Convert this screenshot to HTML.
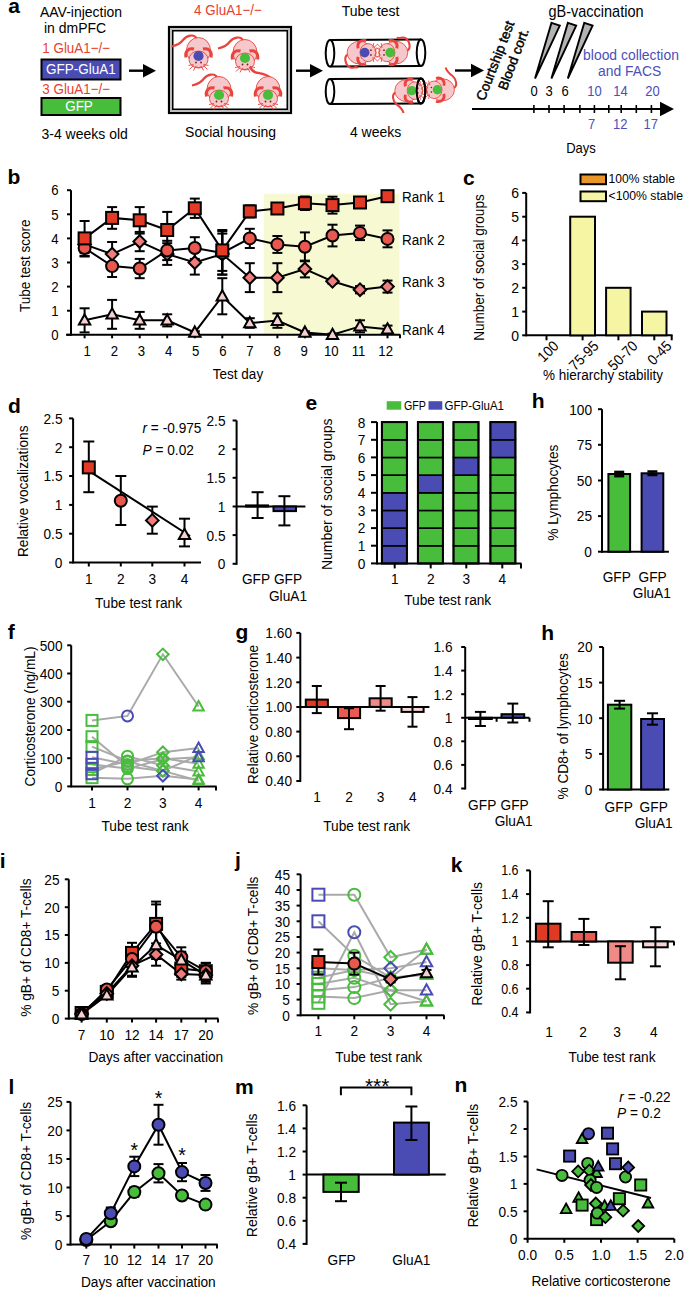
<!DOCTYPE html><html><head><meta charset="utf-8"><style>html,body{margin:0;padding:0;background:#fff;width:685px;height:1291px;overflow:hidden}svg{display:block}text{font-family:"Liberation Sans",sans-serif}</style></head><body><svg width="685" height="1291" viewBox="0 0 685 1291"><text transform="translate(8.20 12.80)" font-size="21" text-anchor="start" fill="#000" font-weight="bold" font-style="normal">a</text>
<text transform="translate(40.00 16.90) scale(1 1.1)" font-size="14" text-anchor="start" fill="#000" font-weight="normal" font-style="normal">AAV-injection</text>
<text transform="translate(44.00 33.00) scale(1 1.1)" font-size="14" text-anchor="start" fill="#000" font-weight="normal" font-style="normal">in dmPFC</text>
<text transform="translate(42.30 53.30) scale(1 1.1)" font-size="13.4" text-anchor="start" fill="#e8402e" font-weight="normal" font-style="normal">1 GluA1−/−</text>
<rect x="41.5" y="59.5" width="79.0" height="20.0" fill="#4a4cb4" stroke="#000" stroke-width="2"/>
<text transform="translate(80.80 74.40) scale(1 1.1)" font-size="13.5" text-anchor="middle" fill="#fff" font-weight="normal" font-style="normal">GFP-GluA1</text>
<text transform="translate(42.30 94.30) scale(1 1.1)" font-size="13.4" text-anchor="start" fill="#e8402e" font-weight="normal" font-style="normal">3 GluA1−/−</text>
<rect x="41.5" y="98.0" width="79.0" height="17.0" fill="#48bd3c" stroke="#000" stroke-width="2"/>
<text transform="translate(79.00 111.00) scale(1 1.1)" font-size="13.5" text-anchor="middle" fill="#fff" font-weight="normal" font-style="normal">GFP</text>
<text transform="translate(41.50 138.50) scale(1 1.1)" font-size="14" text-anchor="start" fill="#000" font-weight="normal" font-style="normal">3-4 weeks old</text>
<line x1="129.0" y1="70.7" x2="147.0" y2="70.7" stroke="#000" stroke-width="2.4"/>
<polygon points="143,63.900000000000006 156,70.7 143,77.5" fill="#000"/>
<line x1="296.0" y1="70.7" x2="314.0" y2="70.7" stroke="#000" stroke-width="2.4"/>
<polygon points="310,63.900000000000006 323,70.7 310,77.5" fill="#000"/>
<line x1="455.0" y1="70.5" x2="475.0" y2="70.5" stroke="#000" stroke-width="2.4"/>
<polygon points="471,63.7 484,70.5 471,77.3" fill="#000"/>
<rect x="169.0" y="27.0" width="122.0" height="86.0" fill="none" stroke="#000" stroke-width="2.2"/>
<rect x="171" y="29" width="118" height="82" fill="none" stroke="#999" stroke-width="1"/>
<rect x="172.7" y="30.7" width="114.6" height="78.6" fill="none" stroke="#000" stroke-width="1.6"/>
<text transform="translate(228.00 14.90) scale(1 1.1)" font-size="13.4" text-anchor="middle" fill="#e8402e" font-weight="normal" font-style="normal">4 GluA1−/−</text>
<text transform="translate(230.60 136.50) scale(1 1.1)" font-size="14" text-anchor="middle" fill="#000" font-weight="normal" font-style="normal">Social housing</text>
<g transform="translate(198.5,52.5) rotate(0) scale(1.0)"><path d="M-2,-14 C-4,-19 -12,-17 -15,-13 C-18,-9 -22.0,-7.0 -27.0,-6.0" fill="none" stroke="#e8433c" stroke-width="2.2"/><ellipse cx="0" cy="-2" rx="12" ry="13" fill="#f6c8cb" stroke="#e8433c" stroke-width="0.9"/><ellipse cx="0" cy="7" rx="9.5" ry="8.5" fill="#f6c8cb" stroke="#e8433c" stroke-width="0.9"/><path d="M-12.5,5 C-14,-1 -10,-5 -4.5,-3.5" fill="none" stroke="#e8433c" stroke-width="3"/><path d="M12.5,5 C14,-1 10,-5 4.5,-3.5" fill="none" stroke="#e8433c" stroke-width="3"/><path d="M-5,12 L-10,13 M-5,13 L-9,17 M-3,14 L-5,18 M5,12 L10,13 M5,13 L9,17 M3,14 L5,18 M-3,14 Q0,16.5 3,14" fill="none" stroke="#e8433c" stroke-width="0.9"/><circle cx="0" cy="3.5" r="5.1" fill="#4a4cb4"/><circle cx="-2.5" cy="10" r="0.9" fill="#7a1a1a"/><circle cx="2.5" cy="10" r="0.9" fill="#7a1a1a"/></g>
<g transform="translate(245,54.5) rotate(0) scale(1.0)"><path d="M-2,-14 C-4,-19 -12,-17 -15,-13 C-18,-9 -22.0,-7.0 -27.0,-6.0" fill="none" stroke="#e8433c" stroke-width="2.2"/><ellipse cx="0" cy="-2" rx="12" ry="13" fill="#f6c8cb" stroke="#e8433c" stroke-width="0.9"/><ellipse cx="0" cy="7" rx="9.5" ry="8.5" fill="#f6c8cb" stroke="#e8433c" stroke-width="0.9"/><path d="M-12.5,5 C-14,-1 -10,-5 -4.5,-3.5" fill="none" stroke="#e8433c" stroke-width="3"/><path d="M12.5,5 C14,-1 10,-5 4.5,-3.5" fill="none" stroke="#e8433c" stroke-width="3"/><path d="M-5,12 L-10,13 M-5,13 L-9,17 M-3,14 L-5,18 M5,12 L10,13 M5,13 L9,17 M3,14 L5,18 M-3,14 Q0,16.5 3,14" fill="none" stroke="#e8433c" stroke-width="0.9"/><circle cx="0" cy="3.5" r="5.1" fill="#48bd3c"/><circle cx="-2.5" cy="10" r="0.9" fill="#7a1a1a"/><circle cx="2.5" cy="10" r="0.9" fill="#7a1a1a"/></g>
<g transform="translate(219,91.5) rotate(0) scale(1.0)"><path d="M-2,-14 C-4,-19 -12,-17 -15,-13 C-18,-9 -22.0,-7.0 -27.0,-6.0" fill="none" stroke="#e8433c" stroke-width="2.2"/><ellipse cx="0" cy="-2" rx="12" ry="13" fill="#f6c8cb" stroke="#e8433c" stroke-width="0.9"/><ellipse cx="0" cy="7" rx="9.5" ry="8.5" fill="#f6c8cb" stroke="#e8433c" stroke-width="0.9"/><path d="M-12.5,5 C-14,-1 -10,-5 -4.5,-3.5" fill="none" stroke="#e8433c" stroke-width="3"/><path d="M12.5,5 C14,-1 10,-5 4.5,-3.5" fill="none" stroke="#e8433c" stroke-width="3"/><path d="M-5,12 L-10,13 M-5,13 L-9,17 M-3,14 L-5,18 M5,12 L10,13 M5,13 L9,17 M3,14 L5,18 M-3,14 Q0,16.5 3,14" fill="none" stroke="#e8433c" stroke-width="0.9"/><circle cx="0" cy="3.5" r="5.1" fill="#48bd3c"/><circle cx="-2.5" cy="10" r="0.9" fill="#7a1a1a"/><circle cx="2.5" cy="10" r="0.9" fill="#7a1a1a"/></g>
<g transform="translate(268,91.5) rotate(0) scale(1.0)"><path d="M2,-14 C-2,-18 -8,-18 -12,-19 C-15,-20 -17,-22 -18,-25" fill="none" stroke="#e8433c" stroke-width="2.4"/><ellipse cx="0" cy="-2" rx="12" ry="13" fill="#f6c8cb" stroke="#e8433c" stroke-width="0.9"/><ellipse cx="0" cy="7" rx="9.5" ry="8.5" fill="#f6c8cb" stroke="#e8433c" stroke-width="0.9"/><path d="M-12.5,5 C-14,-1 -10,-5 -4.5,-3.5" fill="none" stroke="#e8433c" stroke-width="3"/><path d="M12.5,5 C14,-1 10,-5 4.5,-3.5" fill="none" stroke="#e8433c" stroke-width="3"/><path d="M-5,12 L-10,13 M-5,13 L-9,17 M-3,14 L-5,18 M5,12 L10,13 M5,13 L9,17 M3,14 L5,18 M-3,14 Q0,16.5 3,14" fill="none" stroke="#e8433c" stroke-width="0.9"/><circle cx="0" cy="3.5" r="5.1" fill="#48bd3c"/><circle cx="-2.5" cy="10" r="0.9" fill="#7a1a1a"/><circle cx="2.5" cy="10" r="0.9" fill="#7a1a1a"/></g>
<line x1="330.0" y1="40.0" x2="421.0" y2="39.5" stroke="#000" stroke-width="2"/>
<line x1="330.0" y1="66.5" x2="421.0" y2="66.0" stroke="#000" stroke-width="2"/>
<ellipse cx="330" cy="53.25" rx="4.3" ry="13.25" fill="#fff" stroke="#000" stroke-width="2"/>
<ellipse cx="421" cy="52.75" rx="4.3" ry="13.25" fill="none" stroke="#000" stroke-width="2"/>
<line x1="330.0" y1="79.0" x2="421.0" y2="78.5" stroke="#000" stroke-width="2"/>
<line x1="330.0" y1="104.0" x2="421.0" y2="103.5" stroke="#000" stroke-width="2"/>
<ellipse cx="330" cy="91.5" rx="4.3" ry="12.5" fill="#fff" stroke="#000" stroke-width="2"/>
<ellipse cx="421" cy="91.0" rx="4.3" ry="12.5" fill="none" stroke="#000" stroke-width="2"/>
<g transform="translate(361.4,52.6) rotate(-90) scale(0.95)"><path d="M-2,-14 C-4,-19 -12,-17 -15,-13 C-18,-9 -13.2,-6.2 -16.2,-3.5999999999999996" fill="none" stroke="#e8433c" stroke-width="2.2"/><ellipse cx="0" cy="-2" rx="12" ry="13" fill="#f6c8cb" stroke="#e8433c" stroke-width="0.9"/><ellipse cx="0" cy="7" rx="9.5" ry="8.5" fill="#f6c8cb" stroke="#e8433c" stroke-width="0.9"/><path d="M-12.5,5 C-14,-1 -10,-5 -4.5,-3.5" fill="none" stroke="#e8433c" stroke-width="3"/><path d="M12.5,5 C14,-1 10,-5 4.5,-3.5" fill="none" stroke="#e8433c" stroke-width="3"/><path d="M-5,12 L-10,13 M-5,13 L-9,17 M-3,14 L-5,18 M5,12 L10,13 M5,13 L9,17 M3,14 L5,18 M-3,14 Q0,16.5 3,14" fill="none" stroke="#e8433c" stroke-width="0.9"/><circle cx="0" cy="3.5" r="5.1" fill="#4a4cb4"/><circle cx="-2.5" cy="10" r="0.9" fill="#7a1a1a"/><circle cx="2.5" cy="10" r="0.9" fill="#7a1a1a"/></g>
<g transform="translate(393.5,52.6) rotate(90) scale(0.95)"><path d="M-2,-14 C-4,-19 -12,-17 -15,-13 C-18,-9 -13.2,-6.2 -16.2,-3.5999999999999996" fill="none" stroke="#e8433c" stroke-width="2.2"/><ellipse cx="0" cy="-2" rx="12" ry="13" fill="#f6c8cb" stroke="#e8433c" stroke-width="0.9"/><ellipse cx="0" cy="7" rx="9.5" ry="8.5" fill="#f6c8cb" stroke="#e8433c" stroke-width="0.9"/><path d="M-12.5,5 C-14,-1 -10,-5 -4.5,-3.5" fill="none" stroke="#e8433c" stroke-width="3"/><path d="M12.5,5 C14,-1 10,-5 4.5,-3.5" fill="none" stroke="#e8433c" stroke-width="3"/><path d="M-5,12 L-10,13 M-5,13 L-9,17 M-3,14 L-5,18 M5,12 L10,13 M5,13 L9,17 M3,14 L5,18 M-3,14 Q0,16.5 3,14" fill="none" stroke="#e8433c" stroke-width="0.9"/><circle cx="0" cy="3.5" r="5.1" fill="#48bd3c"/><circle cx="-2.5" cy="10" r="0.9" fill="#7a1a1a"/><circle cx="2.5" cy="10" r="0.9" fill="#7a1a1a"/></g>
<g transform="translate(408.6,90.6) rotate(-90) scale(0.92)"><path d="M-2,-14 C-4,-19 -12,-17 -15,-13 C-18,-9 -19.8,-6.8 -24.3,-5.4" fill="none" stroke="#e8433c" stroke-width="2.2"/><ellipse cx="0" cy="-2" rx="12" ry="13" fill="#f6c8cb" stroke="#e8433c" stroke-width="0.9"/><ellipse cx="0" cy="7" rx="9.5" ry="8.5" fill="#f6c8cb" stroke="#e8433c" stroke-width="0.9"/><path d="M-12.5,5 C-14,-1 -10,-5 -4.5,-3.5" fill="none" stroke="#e8433c" stroke-width="3"/><path d="M12.5,5 C14,-1 10,-5 4.5,-3.5" fill="none" stroke="#e8433c" stroke-width="3"/><path d="M-5,12 L-10,13 M-5,13 L-9,17 M-3,14 L-5,18 M5,12 L10,13 M5,13 L9,17 M3,14 L5,18 M-3,14 Q0,16.5 3,14" fill="none" stroke="#e8433c" stroke-width="0.9"/><circle cx="0" cy="3.5" r="5.1" fill="#48bd3c"/><circle cx="-2.5" cy="10" r="0.9" fill="#7a1a1a"/><circle cx="2.5" cy="10" r="0.9" fill="#7a1a1a"/></g>
<g transform="translate(440.6,89.8) rotate(90) scale(0.92)"><path d="M-2,-14 C-4,-19 -12,-17 -15,-13 C-18,-9 -19.8,-6.8 -24.3,-5.4" fill="none" stroke="#e8433c" stroke-width="2.2"/><ellipse cx="0" cy="-2" rx="12" ry="13" fill="#f6c8cb" stroke="#e8433c" stroke-width="0.9"/><ellipse cx="0" cy="7" rx="9.5" ry="8.5" fill="#f6c8cb" stroke="#e8433c" stroke-width="0.9"/><path d="M-12.5,5 C-14,-1 -10,-5 -4.5,-3.5" fill="none" stroke="#e8433c" stroke-width="3"/><path d="M12.5,5 C14,-1 10,-5 4.5,-3.5" fill="none" stroke="#e8433c" stroke-width="3"/><path d="M-5,12 L-10,13 M-5,13 L-9,17 M-3,14 L-5,18 M5,12 L10,13 M5,13 L9,17 M3,14 L5,18 M-3,14 Q0,16.5 3,14" fill="none" stroke="#e8433c" stroke-width="0.9"/><circle cx="0" cy="3.5" r="5.1" fill="#48bd3c"/><circle cx="-2.5" cy="10" r="0.9" fill="#7a1a1a"/><circle cx="2.5" cy="10" r="0.9" fill="#7a1a1a"/></g>
<ellipse cx="421" cy="91" rx="4.3" ry="12.5" fill="none" stroke="#000" stroke-width="2"/>
<text transform="translate(370.60 16.00) scale(1 1.1)" font-size="14" text-anchor="middle" fill="#000" font-weight="normal" font-style="normal">Tube test</text>
<text transform="translate(375.60 137.00) scale(1 1.1)" font-size="14" text-anchor="middle" fill="#000" font-weight="normal" font-style="normal">4 weeks</text>
<text transform="translate(596.00 16.80) scale(1 1.1)" font-size="14.5" text-anchor="middle" fill="#000" font-weight="normal" font-style="normal">gB-vaccination</text>
<polygon points="551.5,22.8 559.8,25.6 535.0,78.5" fill="#b3b3b3" stroke="#000" stroke-width="1.9" stroke-linejoin="miter" stroke-miterlimit="10"/>
<polygon points="567.9,22.8 576.1999999999999,25.6 551.4,78.5" fill="#b3b3b3" stroke="#000" stroke-width="1.9" stroke-linejoin="miter" stroke-miterlimit="10"/>
<polygon points="584.3,22.8 592.5999999999999,25.6 567.8,78.5" fill="#b3b3b3" stroke="#000" stroke-width="1.9" stroke-linejoin="miter" stroke-miterlimit="10"/>
<line x1="472.0" y1="109.0" x2="665.0" y2="109.0" stroke="#000" stroke-width="2"/>
<polygon points="660,101.7 674,109 660,116.3" fill="#000"/>
<line x1="533.9" y1="105.0" x2="533.9" y2="113.0" stroke="#000" stroke-width="1.6"/>
<line x1="549.0" y1="105.0" x2="549.0" y2="113.0" stroke="#000" stroke-width="1.6"/>
<line x1="564.1" y1="105.0" x2="564.1" y2="113.0" stroke="#000" stroke-width="1.6"/>
<line x1="579.9" y1="105.0" x2="579.9" y2="113.0" stroke="#000" stroke-width="1.6"/>
<line x1="594.4" y1="105.0" x2="594.4" y2="113.0" stroke="#000" stroke-width="1.6"/>
<line x1="608.8" y1="105.0" x2="608.8" y2="113.0" stroke="#000" stroke-width="1.6"/>
<line x1="621.2" y1="105.0" x2="621.2" y2="113.0" stroke="#000" stroke-width="1.6"/>
<line x1="636.3" y1="105.0" x2="636.3" y2="113.0" stroke="#000" stroke-width="1.6"/>
<line x1="651.4" y1="105.0" x2="651.4" y2="113.0" stroke="#000" stroke-width="1.6"/>
<text transform="translate(534.00 95.70) scale(1 1.1)" font-size="13" text-anchor="middle" fill="#000" font-weight="normal" font-style="normal">0</text>
<text transform="translate(549.00 95.70) scale(1 1.1)" font-size="13" text-anchor="middle" fill="#000" font-weight="normal" font-style="normal">3</text>
<text transform="translate(565.00 95.70) scale(1 1.1)" font-size="13" text-anchor="middle" fill="#000" font-weight="normal" font-style="normal">6</text>
<text transform="translate(594.40 95.70) scale(1 1.1)" font-size="13" text-anchor="middle" fill="#4b4fb8" font-weight="normal" font-style="normal">10</text>
<text transform="translate(620.50 95.70) scale(1 1.1)" font-size="13" text-anchor="middle" fill="#4b4fb8" font-weight="normal" font-style="normal">14</text>
<text transform="translate(652.40 95.70) scale(1 1.1)" font-size="13" text-anchor="middle" fill="#4b4fb8" font-weight="normal" font-style="normal">20</text>
<text transform="translate(591.70 129.00) scale(1 1.1)" font-size="13" text-anchor="middle" fill="#4b4fb8" font-weight="normal" font-style="normal">7</text>
<text transform="translate(620.20 129.00) scale(1 1.1)" font-size="13" text-anchor="middle" fill="#4b4fb8" font-weight="normal" font-style="normal">12</text>
<text transform="translate(650.80 129.00) scale(1 1.1)" font-size="13" text-anchor="middle" fill="#4b4fb8" font-weight="normal" font-style="normal">17</text>
<text transform="translate(631.00 60.00) scale(1 1.1)" font-size="13.9" text-anchor="middle" fill="#4b4fb8" font-weight="normal" font-style="normal">blood collection</text>
<text transform="translate(629.60 75.50) scale(1 1.1)" font-size="13.9" text-anchor="middle" fill="#4b4fb8" font-weight="normal" font-style="normal">and FACS</text>
<text transform="translate(581.00 152.80) scale(1 1.1)" font-size="13" text-anchor="middle" fill="#000" font-weight="normal" font-style="normal">Days</text>
<text transform="translate(484.60 101.50) rotate(-69)" font-size="13.6" text-anchor="start" fill="#000" font-weight="normal" font-style="normal" stroke="#000" stroke-width="0.45">Courtship test</text>
<text transform="translate(506.50 91.00) rotate(-69.5)" font-size="13.5" text-anchor="start" fill="#000" font-weight="normal" font-style="normal" stroke="#000" stroke-width="0.45">Blood cort.</text>
<text transform="translate(7.40 184.40)" font-size="21" text-anchor="start" fill="#000" font-weight="bold" font-style="normal">b</text>
<rect x="263.8" y="193.8" width="135.6" height="141.0" fill="#f7f9d3"/>
<line x1="71.0" y1="335.8" x2="71.0" y2="190.2" stroke="#000" stroke-width="2"/>
<line x1="67.0" y1="334.8" x2="71.0" y2="334.8" stroke="#000" stroke-width="2"/>
<text transform="translate(58.50 340.00) scale(1 1.1)" font-size="13.2" text-anchor="end" fill="#000" font-weight="normal" font-style="normal">0</text>
<line x1="67.0" y1="310.7" x2="71.0" y2="310.7" stroke="#000" stroke-width="2"/>
<text transform="translate(58.50 315.90) scale(1 1.1)" font-size="13.2" text-anchor="end" fill="#000" font-weight="normal" font-style="normal">1</text>
<line x1="67.0" y1="286.6" x2="71.0" y2="286.6" stroke="#000" stroke-width="2"/>
<text transform="translate(58.50 291.80) scale(1 1.1)" font-size="13.2" text-anchor="end" fill="#000" font-weight="normal" font-style="normal">2</text>
<line x1="67.0" y1="262.5" x2="71.0" y2="262.5" stroke="#000" stroke-width="2"/>
<text transform="translate(58.50 267.70) scale(1 1.1)" font-size="13.2" text-anchor="end" fill="#000" font-weight="normal" font-style="normal">3</text>
<line x1="67.0" y1="238.4" x2="71.0" y2="238.4" stroke="#000" stroke-width="2"/>
<text transform="translate(58.50 243.60) scale(1 1.1)" font-size="13.2" text-anchor="end" fill="#000" font-weight="normal" font-style="normal">4</text>
<line x1="67.0" y1="214.3" x2="71.0" y2="214.3" stroke="#000" stroke-width="2"/>
<text transform="translate(58.50 219.50) scale(1 1.1)" font-size="13.2" text-anchor="end" fill="#000" font-weight="normal" font-style="normal">5</text>
<line x1="67.0" y1="190.2" x2="71.0" y2="190.2" stroke="#000" stroke-width="2"/>
<text transform="translate(58.50 195.40) scale(1 1.1)" font-size="13.2" text-anchor="end" fill="#000" font-weight="normal" font-style="normal">6</text>
<line x1="66.0" y1="334.8" x2="400.5" y2="334.8" stroke="#000" stroke-width="2"/>
<line x1="84.6" y1="334.8" x2="84.6" y2="338.3" stroke="#000" stroke-width="2"/>
<text transform="translate(87.20 356.00) scale(1 1.1)" font-size="13.2" text-anchor="middle" fill="#000" font-weight="normal" font-style="normal">1</text>
<line x1="112.1" y1="334.8" x2="112.1" y2="338.3" stroke="#000" stroke-width="2"/>
<text transform="translate(114.33 356.00) scale(1 1.1)" font-size="13.2" text-anchor="middle" fill="#000" font-weight="normal" font-style="normal">2</text>
<line x1="139.7" y1="334.8" x2="139.7" y2="338.3" stroke="#000" stroke-width="2"/>
<text transform="translate(141.46 356.00) scale(1 1.1)" font-size="13.2" text-anchor="middle" fill="#000" font-weight="normal" font-style="normal">3</text>
<line x1="167.2" y1="334.8" x2="167.2" y2="338.3" stroke="#000" stroke-width="2"/>
<text transform="translate(168.59 356.00) scale(1 1.1)" font-size="13.2" text-anchor="middle" fill="#000" font-weight="normal" font-style="normal">4</text>
<line x1="194.8" y1="334.8" x2="194.8" y2="338.3" stroke="#000" stroke-width="2"/>
<text transform="translate(195.72 356.00) scale(1 1.1)" font-size="13.2" text-anchor="middle" fill="#000" font-weight="normal" font-style="normal">5</text>
<line x1="222.3" y1="334.8" x2="222.3" y2="338.3" stroke="#000" stroke-width="2"/>
<text transform="translate(222.85 356.00) scale(1 1.1)" font-size="13.2" text-anchor="middle" fill="#000" font-weight="normal" font-style="normal">6</text>
<line x1="249.8" y1="334.8" x2="249.8" y2="338.3" stroke="#000" stroke-width="2"/>
<text transform="translate(249.98 356.00) scale(1 1.1)" font-size="13.2" text-anchor="middle" fill="#000" font-weight="normal" font-style="normal">7</text>
<line x1="277.4" y1="334.8" x2="277.4" y2="338.3" stroke="#000" stroke-width="2"/>
<text transform="translate(277.11 356.00) scale(1 1.1)" font-size="13.2" text-anchor="middle" fill="#000" font-weight="normal" font-style="normal">8</text>
<line x1="304.9" y1="334.8" x2="304.9" y2="338.3" stroke="#000" stroke-width="2"/>
<text transform="translate(304.24 356.00) scale(1 1.1)" font-size="13.2" text-anchor="middle" fill="#000" font-weight="normal" font-style="normal">9</text>
<line x1="332.5" y1="334.8" x2="332.5" y2="338.3" stroke="#000" stroke-width="2"/>
<text transform="translate(331.37 356.00) scale(1 1.1)" font-size="13.2" text-anchor="middle" fill="#000" font-weight="normal" font-style="normal">10</text>
<line x1="360.0" y1="334.8" x2="360.0" y2="338.3" stroke="#000" stroke-width="2"/>
<text transform="translate(358.50 356.00) scale(1 1.1)" font-size="13.2" text-anchor="middle" fill="#000" font-weight="normal" font-style="normal">11</text>
<line x1="387.5" y1="334.8" x2="387.5" y2="338.3" stroke="#000" stroke-width="2"/>
<text transform="translate(385.63 356.00) scale(1 1.1)" font-size="13.2" text-anchor="middle" fill="#000" font-weight="normal" font-style="normal">12</text>
<line x1="400.0" y1="334.8" x2="400.0" y2="338.3" stroke="#000" stroke-width="2"/>
<text transform="translate(29.70 265.70) rotate(-90) scale(1 1.1)" font-size="13.5" text-anchor="middle" fill="#000" font-weight="normal" font-style="normal">Tube test score</text>
<text transform="translate(238.00 379.00) scale(1 1.1)" font-size="13.5" text-anchor="middle" fill="#000" font-weight="normal" font-style="normal">Test day</text>
<polyline points="84.6,238.4 112.1,217.9 139.7,220.3 167.2,230.0 194.8,208.3 222.3,250.4 249.8,211.4 277.4,208.5 304.9,203.2 332.5,205.1 360.0,202.5 387.5,196.2" fill="none" stroke="#000" stroke-width="2"/>
<line x1="84.6" y1="221.0" x2="84.6" y2="255.8" stroke="#000" stroke-width="2"/>
<line x1="79.6" y1="221.0" x2="89.6" y2="221.0" stroke="#000" stroke-width="2"/>
<line x1="79.6" y1="255.8" x2="89.6" y2="255.8" stroke="#000" stroke-width="2"/>
<line x1="112.1" y1="207.1" x2="112.1" y2="228.8" stroke="#000" stroke-width="2"/>
<line x1="107.1" y1="207.1" x2="117.1" y2="207.1" stroke="#000" stroke-width="2"/>
<line x1="107.1" y1="228.8" x2="117.1" y2="228.8" stroke="#000" stroke-width="2"/>
<line x1="139.7" y1="207.1" x2="139.7" y2="233.6" stroke="#000" stroke-width="2"/>
<line x1="134.7" y1="207.1" x2="144.7" y2="207.1" stroke="#000" stroke-width="2"/>
<line x1="134.7" y1="233.6" x2="144.7" y2="233.6" stroke="#000" stroke-width="2"/>
<line x1="167.2" y1="211.9" x2="167.2" y2="248.0" stroke="#000" stroke-width="2"/>
<line x1="162.2" y1="211.9" x2="172.2" y2="211.9" stroke="#000" stroke-width="2"/>
<line x1="162.2" y1="248.0" x2="172.2" y2="248.0" stroke="#000" stroke-width="2"/>
<line x1="194.8" y1="198.6" x2="194.8" y2="217.9" stroke="#000" stroke-width="2"/>
<line x1="189.8" y1="198.6" x2="199.8" y2="198.6" stroke="#000" stroke-width="2"/>
<line x1="189.8" y1="217.9" x2="199.8" y2="217.9" stroke="#000" stroke-width="2"/>
<line x1="222.3" y1="230.0" x2="222.3" y2="270.9" stroke="#000" stroke-width="2"/>
<line x1="217.3" y1="230.0" x2="227.3" y2="230.0" stroke="#000" stroke-width="2"/>
<line x1="217.3" y1="270.9" x2="227.3" y2="270.9" stroke="#000" stroke-width="2"/>
<line x1="249.8" y1="205.4" x2="249.8" y2="217.4" stroke="#000" stroke-width="2"/>
<line x1="244.8" y1="205.4" x2="254.8" y2="205.4" stroke="#000" stroke-width="2"/>
<line x1="244.8" y1="217.4" x2="254.8" y2="217.4" stroke="#000" stroke-width="2"/>
<line x1="277.4" y1="203.2" x2="277.4" y2="213.8" stroke="#000" stroke-width="2"/>
<line x1="272.4" y1="203.2" x2="282.4" y2="203.2" stroke="#000" stroke-width="2"/>
<line x1="272.4" y1="213.8" x2="282.4" y2="213.8" stroke="#000" stroke-width="2"/>
<line x1="304.9" y1="196.5" x2="304.9" y2="210.0" stroke="#000" stroke-width="2"/>
<line x1="299.9" y1="196.5" x2="309.9" y2="196.5" stroke="#000" stroke-width="2"/>
<line x1="299.9" y1="210.0" x2="309.9" y2="210.0" stroke="#000" stroke-width="2"/>
<line x1="332.5" y1="196.7" x2="332.5" y2="213.6" stroke="#000" stroke-width="2"/>
<line x1="327.5" y1="196.7" x2="337.5" y2="196.7" stroke="#000" stroke-width="2"/>
<line x1="327.5" y1="213.6" x2="337.5" y2="213.6" stroke="#000" stroke-width="2"/>
<line x1="360.0" y1="197.7" x2="360.0" y2="207.3" stroke="#000" stroke-width="2"/>
<line x1="355.0" y1="197.7" x2="365.0" y2="197.7" stroke="#000" stroke-width="2"/>
<line x1="355.0" y1="207.3" x2="365.0" y2="207.3" stroke="#000" stroke-width="2"/>
<line x1="387.5" y1="192.6" x2="387.5" y2="199.8" stroke="#000" stroke-width="2"/>
<line x1="382.5" y1="192.6" x2="392.5" y2="192.6" stroke="#000" stroke-width="2"/>
<line x1="382.5" y1="199.8" x2="392.5" y2="199.8" stroke="#000" stroke-width="2"/>
<polyline points="84.6,248.0 112.1,266.1 139.7,268.5 167.2,250.4 194.8,248.0 222.3,252.9 249.8,238.4 277.4,244.4 304.9,246.8 332.5,235.5 360.0,232.9 387.5,238.9" fill="none" stroke="#000" stroke-width="2"/>
<line x1="84.6" y1="239.6" x2="84.6" y2="256.5" stroke="#000" stroke-width="2"/>
<line x1="79.6" y1="239.6" x2="89.6" y2="239.6" stroke="#000" stroke-width="2"/>
<line x1="79.6" y1="256.5" x2="89.6" y2="256.5" stroke="#000" stroke-width="2"/>
<line x1="112.1" y1="255.3" x2="112.1" y2="277.0" stroke="#000" stroke-width="2"/>
<line x1="107.1" y1="255.3" x2="117.1" y2="255.3" stroke="#000" stroke-width="2"/>
<line x1="107.1" y1="277.0" x2="117.1" y2="277.0" stroke="#000" stroke-width="2"/>
<line x1="139.7" y1="258.9" x2="139.7" y2="278.2" stroke="#000" stroke-width="2"/>
<line x1="134.7" y1="258.9" x2="144.7" y2="258.9" stroke="#000" stroke-width="2"/>
<line x1="134.7" y1="278.2" x2="144.7" y2="278.2" stroke="#000" stroke-width="2"/>
<line x1="167.2" y1="240.8" x2="167.2" y2="260.1" stroke="#000" stroke-width="2"/>
<line x1="162.2" y1="240.8" x2="172.2" y2="240.8" stroke="#000" stroke-width="2"/>
<line x1="162.2" y1="260.1" x2="172.2" y2="260.1" stroke="#000" stroke-width="2"/>
<line x1="194.8" y1="237.2" x2="194.8" y2="258.9" stroke="#000" stroke-width="2"/>
<line x1="189.8" y1="237.2" x2="199.8" y2="237.2" stroke="#000" stroke-width="2"/>
<line x1="189.8" y1="258.9" x2="199.8" y2="258.9" stroke="#000" stroke-width="2"/>
<line x1="222.3" y1="231.2" x2="222.3" y2="274.6" stroke="#000" stroke-width="2"/>
<line x1="217.3" y1="231.2" x2="227.3" y2="231.2" stroke="#000" stroke-width="2"/>
<line x1="217.3" y1="274.6" x2="227.3" y2="274.6" stroke="#000" stroke-width="2"/>
<line x1="249.8" y1="228.8" x2="249.8" y2="248.0" stroke="#000" stroke-width="2"/>
<line x1="244.8" y1="228.8" x2="254.8" y2="228.8" stroke="#000" stroke-width="2"/>
<line x1="244.8" y1="248.0" x2="254.8" y2="248.0" stroke="#000" stroke-width="2"/>
<line x1="277.4" y1="236.0" x2="277.4" y2="252.9" stroke="#000" stroke-width="2"/>
<line x1="272.4" y1="236.0" x2="282.4" y2="236.0" stroke="#000" stroke-width="2"/>
<line x1="272.4" y1="252.9" x2="282.4" y2="252.9" stroke="#000" stroke-width="2"/>
<line x1="304.9" y1="232.4" x2="304.9" y2="261.3" stroke="#000" stroke-width="2"/>
<line x1="299.9" y1="232.4" x2="309.9" y2="232.4" stroke="#000" stroke-width="2"/>
<line x1="299.9" y1="261.3" x2="309.9" y2="261.3" stroke="#000" stroke-width="2"/>
<line x1="332.5" y1="224.7" x2="332.5" y2="246.4" stroke="#000" stroke-width="2"/>
<line x1="327.5" y1="224.7" x2="337.5" y2="224.7" stroke="#000" stroke-width="2"/>
<line x1="327.5" y1="246.4" x2="337.5" y2="246.4" stroke="#000" stroke-width="2"/>
<line x1="360.0" y1="225.6" x2="360.0" y2="240.1" stroke="#000" stroke-width="2"/>
<line x1="355.0" y1="225.6" x2="365.0" y2="225.6" stroke="#000" stroke-width="2"/>
<line x1="355.0" y1="240.1" x2="365.0" y2="240.1" stroke="#000" stroke-width="2"/>
<line x1="387.5" y1="230.4" x2="387.5" y2="247.3" stroke="#000" stroke-width="2"/>
<line x1="382.5" y1="230.4" x2="392.5" y2="230.4" stroke="#000" stroke-width="2"/>
<line x1="382.5" y1="247.3" x2="392.5" y2="247.3" stroke="#000" stroke-width="2"/>
<polyline points="84.6,244.4 112.1,254.1 139.7,241.5 167.2,254.1 194.8,262.5 222.3,254.1 249.8,277.7 277.4,277.7 304.9,269.0 332.5,281.3 360.0,289.7 387.5,286.6" fill="none" stroke="#000" stroke-width="2"/>
<line x1="84.6" y1="236.0" x2="84.6" y2="252.9" stroke="#000" stroke-width="2"/>
<line x1="79.6" y1="236.0" x2="89.6" y2="236.0" stroke="#000" stroke-width="2"/>
<line x1="79.6" y1="252.9" x2="89.6" y2="252.9" stroke="#000" stroke-width="2"/>
<line x1="112.1" y1="242.0" x2="112.1" y2="266.1" stroke="#000" stroke-width="2"/>
<line x1="107.1" y1="242.0" x2="117.1" y2="242.0" stroke="#000" stroke-width="2"/>
<line x1="107.1" y1="266.1" x2="117.1" y2="266.1" stroke="#000" stroke-width="2"/>
<line x1="139.7" y1="231.9" x2="139.7" y2="251.2" stroke="#000" stroke-width="2"/>
<line x1="134.7" y1="231.9" x2="144.7" y2="231.9" stroke="#000" stroke-width="2"/>
<line x1="134.7" y1="251.2" x2="144.7" y2="251.2" stroke="#000" stroke-width="2"/>
<line x1="167.2" y1="243.2" x2="167.2" y2="264.9" stroke="#000" stroke-width="2"/>
<line x1="162.2" y1="243.2" x2="172.2" y2="243.2" stroke="#000" stroke-width="2"/>
<line x1="162.2" y1="264.9" x2="172.2" y2="264.9" stroke="#000" stroke-width="2"/>
<line x1="194.8" y1="250.4" x2="194.8" y2="274.6" stroke="#000" stroke-width="2"/>
<line x1="189.8" y1="250.4" x2="199.8" y2="250.4" stroke="#000" stroke-width="2"/>
<line x1="189.8" y1="274.6" x2="199.8" y2="274.6" stroke="#000" stroke-width="2"/>
<line x1="222.3" y1="233.6" x2="222.3" y2="274.6" stroke="#000" stroke-width="2"/>
<line x1="217.3" y1="233.6" x2="227.3" y2="233.6" stroke="#000" stroke-width="2"/>
<line x1="217.3" y1="274.6" x2="227.3" y2="274.6" stroke="#000" stroke-width="2"/>
<line x1="249.8" y1="263.2" x2="249.8" y2="292.1" stroke="#000" stroke-width="2"/>
<line x1="244.8" y1="263.2" x2="254.8" y2="263.2" stroke="#000" stroke-width="2"/>
<line x1="244.8" y1="292.1" x2="254.8" y2="292.1" stroke="#000" stroke-width="2"/>
<line x1="277.4" y1="263.2" x2="277.4" y2="292.1" stroke="#000" stroke-width="2"/>
<line x1="272.4" y1="263.2" x2="282.4" y2="263.2" stroke="#000" stroke-width="2"/>
<line x1="272.4" y1="292.1" x2="282.4" y2="292.1" stroke="#000" stroke-width="2"/>
<line x1="304.9" y1="260.6" x2="304.9" y2="277.4" stroke="#000" stroke-width="2"/>
<line x1="299.9" y1="260.6" x2="309.9" y2="260.6" stroke="#000" stroke-width="2"/>
<line x1="299.9" y1="277.4" x2="309.9" y2="277.4" stroke="#000" stroke-width="2"/>
<line x1="332.5" y1="278.9" x2="332.5" y2="283.7" stroke="#000" stroke-width="2"/>
<line x1="327.5" y1="278.9" x2="337.5" y2="278.9" stroke="#000" stroke-width="2"/>
<line x1="327.5" y1="283.7" x2="337.5" y2="283.7" stroke="#000" stroke-width="2"/>
<line x1="360.0" y1="286.1" x2="360.0" y2="293.3" stroke="#000" stroke-width="2"/>
<line x1="355.0" y1="286.1" x2="365.0" y2="286.1" stroke="#000" stroke-width="2"/>
<line x1="355.0" y1="293.3" x2="365.0" y2="293.3" stroke="#000" stroke-width="2"/>
<line x1="387.5" y1="280.6" x2="387.5" y2="292.6" stroke="#000" stroke-width="2"/>
<line x1="382.5" y1="280.6" x2="392.5" y2="280.6" stroke="#000" stroke-width="2"/>
<line x1="382.5" y1="292.6" x2="392.5" y2="292.6" stroke="#000" stroke-width="2"/>
<polyline points="84.6,320.3 112.1,314.3 139.7,320.3 167.2,320.3 194.8,332.4 222.3,296.2 249.8,323.0 277.4,320.6 304.9,332.4 332.5,334.8 360.0,326.4 387.5,329.3" fill="none" stroke="#000" stroke-width="2"/>
<line x1="84.6" y1="308.3" x2="84.6" y2="332.4" stroke="#000" stroke-width="2"/>
<line x1="79.6" y1="308.3" x2="89.6" y2="308.3" stroke="#000" stroke-width="2"/>
<line x1="79.6" y1="332.4" x2="89.6" y2="332.4" stroke="#000" stroke-width="2"/>
<line x1="112.1" y1="299.9" x2="112.1" y2="328.8" stroke="#000" stroke-width="2"/>
<line x1="107.1" y1="299.9" x2="117.1" y2="299.9" stroke="#000" stroke-width="2"/>
<line x1="107.1" y1="328.8" x2="117.1" y2="328.8" stroke="#000" stroke-width="2"/>
<line x1="139.7" y1="311.9" x2="139.7" y2="328.8" stroke="#000" stroke-width="2"/>
<line x1="134.7" y1="311.9" x2="144.7" y2="311.9" stroke="#000" stroke-width="2"/>
<line x1="134.7" y1="328.8" x2="144.7" y2="328.8" stroke="#000" stroke-width="2"/>
<line x1="167.2" y1="314.3" x2="167.2" y2="326.4" stroke="#000" stroke-width="2"/>
<line x1="162.2" y1="314.3" x2="172.2" y2="314.3" stroke="#000" stroke-width="2"/>
<line x1="162.2" y1="326.4" x2="172.2" y2="326.4" stroke="#000" stroke-width="2"/>
<line x1="194.8" y1="331.2" x2="194.8" y2="333.6" stroke="#000" stroke-width="2"/>
<line x1="189.8" y1="331.2" x2="199.8" y2="331.2" stroke="#000" stroke-width="2"/>
<line x1="189.8" y1="333.6" x2="199.8" y2="333.6" stroke="#000" stroke-width="2"/>
<line x1="222.3" y1="278.2" x2="222.3" y2="314.3" stroke="#000" stroke-width="2"/>
<line x1="217.3" y1="278.2" x2="227.3" y2="278.2" stroke="#000" stroke-width="2"/>
<line x1="217.3" y1="314.3" x2="227.3" y2="314.3" stroke="#000" stroke-width="2"/>
<line x1="249.8" y1="318.2" x2="249.8" y2="327.8" stroke="#000" stroke-width="2"/>
<line x1="244.8" y1="318.2" x2="254.8" y2="318.2" stroke="#000" stroke-width="2"/>
<line x1="244.8" y1="327.8" x2="254.8" y2="327.8" stroke="#000" stroke-width="2"/>
<line x1="277.4" y1="313.4" x2="277.4" y2="327.8" stroke="#000" stroke-width="2"/>
<line x1="272.4" y1="313.4" x2="282.4" y2="313.4" stroke="#000" stroke-width="2"/>
<line x1="272.4" y1="327.8" x2="282.4" y2="327.8" stroke="#000" stroke-width="2"/>
<line x1="304.9" y1="331.2" x2="304.9" y2="333.6" stroke="#000" stroke-width="2"/>
<line x1="299.9" y1="331.2" x2="309.9" y2="331.2" stroke="#000" stroke-width="2"/>
<line x1="299.9" y1="333.6" x2="309.9" y2="333.6" stroke="#000" stroke-width="2"/>
<line x1="332.5" y1="333.6" x2="332.5" y2="334.8" stroke="#000" stroke-width="2"/>
<line x1="327.5" y1="333.6" x2="337.5" y2="333.6" stroke="#000" stroke-width="2"/>
<line x1="327.5" y1="334.8" x2="337.5" y2="334.8" stroke="#000" stroke-width="2"/>
<line x1="360.0" y1="320.3" x2="360.0" y2="332.4" stroke="#000" stroke-width="2"/>
<line x1="355.0" y1="320.3" x2="365.0" y2="320.3" stroke="#000" stroke-width="2"/>
<line x1="355.0" y1="332.4" x2="365.0" y2="332.4" stroke="#000" stroke-width="2"/>
<line x1="387.5" y1="325.6" x2="387.5" y2="332.9" stroke="#000" stroke-width="2"/>
<line x1="382.5" y1="325.6" x2="392.5" y2="325.6" stroke="#000" stroke-width="2"/>
<line x1="382.5" y1="332.9" x2="392.5" y2="332.9" stroke="#000" stroke-width="2"/>
<polygon points="84.6,314.4 90.3,324.6 78.9,324.6" fill="#f7cfd0" stroke="#000" stroke-width="2" stroke-linejoin="miter"/>
<polygon points="112.1,308.3 117.8,318.6 106.4,318.6" fill="#f7cfd0" stroke="#000" stroke-width="2" stroke-linejoin="miter"/>
<polygon points="139.7,314.4 145.4,324.6 134.0,324.6" fill="#f7cfd0" stroke="#000" stroke-width="2" stroke-linejoin="miter"/>
<polygon points="167.2,314.4 172.9,324.6 161.5,324.6" fill="#f7cfd0" stroke="#000" stroke-width="2" stroke-linejoin="miter"/>
<polygon points="194.8,326.4 200.5,336.7 189.1,336.7" fill="#f7cfd0" stroke="#000" stroke-width="2" stroke-linejoin="miter"/>
<polygon points="222.3,290.3 228.0,300.5 216.6,300.5" fill="#f7cfd0" stroke="#000" stroke-width="2" stroke-linejoin="miter"/>
<polygon points="249.8,317.0 255.5,327.3 244.1,327.3" fill="#f7cfd0" stroke="#000" stroke-width="2" stroke-linejoin="miter"/>
<polygon points="277.4,314.6 283.1,324.9 271.7,324.9" fill="#f7cfd0" stroke="#000" stroke-width="2" stroke-linejoin="miter"/>
<polygon points="304.9,326.4 310.6,336.7 299.2,336.7" fill="#f7cfd0" stroke="#000" stroke-width="2" stroke-linejoin="miter"/>
<polygon points="332.5,328.8 338.2,339.1 326.8,339.1" fill="#f7cfd0" stroke="#000" stroke-width="2" stroke-linejoin="miter"/>
<polygon points="360.0,320.4 365.7,330.6 354.3,330.6" fill="#f7cfd0" stroke="#000" stroke-width="2" stroke-linejoin="miter"/>
<polygon points="387.5,323.3 393.2,333.5 381.8,333.5" fill="#f7cfd0" stroke="#000" stroke-width="2" stroke-linejoin="miter"/>
<polygon points="84.6,238.1 90.9,244.4 84.6,250.7 78.3,244.4" fill="#ef7d7b" stroke="#000" stroke-width="2"/>
<polygon points="112.1,247.8 118.4,254.1 112.1,260.4 105.8,254.1" fill="#ef7d7b" stroke="#000" stroke-width="2"/>
<polygon points="139.7,235.2 146.0,241.5 139.7,247.8 133.4,241.5" fill="#ef7d7b" stroke="#000" stroke-width="2"/>
<polygon points="167.2,247.8 173.5,254.1 167.2,260.4 160.9,254.1" fill="#ef7d7b" stroke="#000" stroke-width="2"/>
<polygon points="194.8,256.2 201.1,262.5 194.8,268.8 188.5,262.5" fill="#ef7d7b" stroke="#000" stroke-width="2"/>
<polygon points="222.3,247.8 228.6,254.1 222.3,260.4 216.0,254.1" fill="#ef7d7b" stroke="#000" stroke-width="2"/>
<polygon points="249.8,271.4 256.1,277.7 249.8,284.0 243.5,277.7" fill="#ef7d7b" stroke="#000" stroke-width="2"/>
<polygon points="277.4,271.4 283.7,277.7 277.4,284.0 271.1,277.7" fill="#ef7d7b" stroke="#000" stroke-width="2"/>
<polygon points="304.9,262.7 311.2,269.0 304.9,275.3 298.6,269.0" fill="#ef7d7b" stroke="#000" stroke-width="2"/>
<polygon points="332.5,275.0 338.8,281.3 332.5,287.6 326.2,281.3" fill="#ef7d7b" stroke="#000" stroke-width="2"/>
<polygon points="360.0,283.4 366.3,289.7 360.0,296.0 353.7,289.7" fill="#ef7d7b" stroke="#000" stroke-width="2"/>
<polygon points="387.5,280.3 393.8,286.6 387.5,292.9 381.2,286.6" fill="#ef7d7b" stroke="#000" stroke-width="2"/>
<circle cx="84.6" cy="248.0" r="6.0" fill="#e8584e" stroke="#000" stroke-width="2"/>
<circle cx="112.1" cy="266.1" r="6.0" fill="#e8584e" stroke="#000" stroke-width="2"/>
<circle cx="139.7" cy="268.5" r="6.0" fill="#e8584e" stroke="#000" stroke-width="2"/>
<circle cx="167.2" cy="250.4" r="6.0" fill="#e8584e" stroke="#000" stroke-width="2"/>
<circle cx="194.8" cy="248.0" r="6.0" fill="#e8584e" stroke="#000" stroke-width="2"/>
<circle cx="222.3" cy="252.9" r="6.0" fill="#e8584e" stroke="#000" stroke-width="2"/>
<circle cx="249.8" cy="238.4" r="6.0" fill="#e8584e" stroke="#000" stroke-width="2"/>
<circle cx="277.4" cy="244.4" r="6.0" fill="#e8584e" stroke="#000" stroke-width="2"/>
<circle cx="304.9" cy="246.8" r="6.0" fill="#e8584e" stroke="#000" stroke-width="2"/>
<circle cx="332.5" cy="235.5" r="6.0" fill="#e8584e" stroke="#000" stroke-width="2"/>
<circle cx="360.0" cy="232.9" r="6.0" fill="#e8584e" stroke="#000" stroke-width="2"/>
<circle cx="387.5" cy="238.9" r="6.0" fill="#e8584e" stroke="#000" stroke-width="2"/>
<rect x="78.6" y="232.4" width="12" height="12" fill="#e33a26" stroke="#000" stroke-width="2"/>
<rect x="106.1" y="211.9" width="12" height="12" fill="#e33a26" stroke="#000" stroke-width="2"/>
<rect x="133.7" y="214.3" width="12" height="12" fill="#e33a26" stroke="#000" stroke-width="2"/>
<rect x="161.2" y="224.0" width="12" height="12" fill="#e33a26" stroke="#000" stroke-width="2"/>
<rect x="188.8" y="202.3" width="12" height="12" fill="#e33a26" stroke="#000" stroke-width="2"/>
<rect x="216.3" y="244.4" width="12" height="12" fill="#e33a26" stroke="#000" stroke-width="2"/>
<rect x="243.8" y="205.4" width="12" height="12" fill="#e33a26" stroke="#000" stroke-width="2"/>
<rect x="271.4" y="202.5" width="12" height="12" fill="#e33a26" stroke="#000" stroke-width="2"/>
<rect x="298.9" y="197.2" width="12" height="12" fill="#e33a26" stroke="#000" stroke-width="2"/>
<rect x="326.5" y="199.1" width="12" height="12" fill="#e33a26" stroke="#000" stroke-width="2"/>
<rect x="354.0" y="196.5" width="12" height="12" fill="#e33a26" stroke="#000" stroke-width="2"/>
<rect x="381.5" y="190.2" width="12" height="12" fill="#e33a26" stroke="#000" stroke-width="2"/>
<text transform="translate(402.00 201.60) scale(1 1.1)" font-size="13.5" text-anchor="start" fill="#000" font-weight="normal" font-style="normal">Rank 1</text>
<text transform="translate(402.00 244.60) scale(1 1.1)" font-size="13.5" text-anchor="start" fill="#000" font-weight="normal" font-style="normal">Rank 2</text>
<text transform="translate(402.00 287.40) scale(1 1.1)" font-size="13.5" text-anchor="start" fill="#000" font-weight="normal" font-style="normal">Rank 3</text>
<text transform="translate(402.00 335.40) scale(1 1.1)" font-size="13.5" text-anchor="start" fill="#000" font-weight="normal" font-style="normal">Rank 4</text>
<text transform="translate(462.90 184.80)" font-size="21" text-anchor="start" fill="#000" font-weight="bold" font-style="normal">c</text>
<line x1="526.2" y1="336.3" x2="526.2" y2="192.9" stroke="#000" stroke-width="2"/>
<line x1="522.2" y1="335.3" x2="526.2" y2="335.3" stroke="#000" stroke-width="2"/>
<text transform="translate(519.00 340.82) scale(1 1.1)" font-size="14" text-anchor="end" fill="#000" font-weight="normal" font-style="normal">0</text>
<line x1="522.2" y1="311.6" x2="526.2" y2="311.6" stroke="#000" stroke-width="2"/>
<text transform="translate(519.00 317.09) scale(1 1.1)" font-size="14" text-anchor="end" fill="#000" font-weight="normal" font-style="normal">1</text>
<line x1="522.2" y1="287.8" x2="526.2" y2="287.8" stroke="#000" stroke-width="2"/>
<text transform="translate(519.00 293.36) scale(1 1.1)" font-size="14" text-anchor="end" fill="#000" font-weight="normal" font-style="normal">2</text>
<line x1="522.2" y1="264.1" x2="526.2" y2="264.1" stroke="#000" stroke-width="2"/>
<text transform="translate(519.00 269.63) scale(1 1.1)" font-size="14" text-anchor="end" fill="#000" font-weight="normal" font-style="normal">3</text>
<line x1="522.2" y1="240.4" x2="526.2" y2="240.4" stroke="#000" stroke-width="2"/>
<text transform="translate(519.00 245.90) scale(1 1.1)" font-size="14" text-anchor="end" fill="#000" font-weight="normal" font-style="normal">4</text>
<line x1="522.2" y1="216.7" x2="526.2" y2="216.7" stroke="#000" stroke-width="2"/>
<text transform="translate(519.00 222.17) scale(1 1.1)" font-size="14" text-anchor="end" fill="#000" font-weight="normal" font-style="normal">5</text>
<line x1="522.2" y1="192.9" x2="526.2" y2="192.9" stroke="#000" stroke-width="2"/>
<text transform="translate(519.00 198.44) scale(1 1.1)" font-size="14" text-anchor="end" fill="#000" font-weight="normal" font-style="normal">6</text>
<line x1="526.2" y1="335.3" x2="672.6" y2="335.3" stroke="#000" stroke-width="2"/>
<line x1="546.5" y1="335.3" x2="546.5" y2="340.3" stroke="#000" stroke-width="2"/>
<line x1="582.6" y1="335.3" x2="582.6" y2="340.3" stroke="#000" stroke-width="2"/>
<line x1="618.4" y1="335.3" x2="618.4" y2="340.3" stroke="#000" stroke-width="2"/>
<line x1="654.3" y1="335.3" x2="654.3" y2="340.3" stroke="#000" stroke-width="2"/>
<line x1="671.7" y1="335.3" x2="671.7" y2="340.3" stroke="#000" stroke-width="2"/>
<rect x="570.2" y="216.7" width="24.8" height="118.7" fill="#f5f5a3" stroke="#000" stroke-width="2"/>
<rect x="606.1" y="287.8" width="24.5" height="47.5" fill="#f5f5a3" stroke="#000" stroke-width="2"/>
<rect x="642.0" y="311.6" width="24.5" height="23.7" fill="#f5f5a3" stroke="#000" stroke-width="2"/>
<rect x="580.5" y="174.5" width="25.5" height="9.7" fill="#e8952a" stroke="#000" stroke-width="2"/>
<rect x="580.5" y="191.5" width="25.5" height="9.7" fill="#f5f5a3" stroke="#000" stroke-width="2"/>
<text transform="translate(608.50 182.80) scale(1 1.05)" font-size="12.5" text-anchor="start" fill="#000" font-weight="normal" font-style="normal" textLength="66.5" lengthAdjust="spacingAndGlyphs">100% stable</text>
<text transform="translate(608.50 199.50) scale(1 1.05)" font-size="12.5" text-anchor="start" fill="#000" font-weight="normal" font-style="normal" textLength="74.5" lengthAdjust="spacingAndGlyphs">&lt;100% stable</text>
<text transform="translate(559.50 347.00) rotate(-45) scale(1 1.1)" font-size="13.5" text-anchor="end" fill="#000" font-weight="normal" font-style="normal">100</text>
<text transform="translate(599.50 347.00) rotate(-45) scale(1 1.1)" font-size="13.5" text-anchor="end" fill="#000" font-weight="normal" font-style="normal">75-95</text>
<text transform="translate(638.50 347.00) rotate(-45) scale(1 1.1)" font-size="13.5" text-anchor="end" fill="#000" font-weight="normal" font-style="normal">50-70</text>
<text transform="translate(672.50 347.00) rotate(-45) scale(1 1.1)" font-size="13.5" text-anchor="end" fill="#000" font-weight="normal" font-style="normal">0-45</text>
<text transform="translate(603.00 379.60) scale(1 1.1)" font-size="13.5" text-anchor="middle" fill="#000" font-weight="normal" font-style="normal">% hierarchy stability</text>
<text transform="translate(484.10 267.50) rotate(-90) scale(1 1.1)" font-size="13.5" text-anchor="middle" fill="#000" font-weight="normal" font-style="normal">Number of social groups</text>
<text transform="translate(7.90 412.50)" font-size="21" text-anchor="start" fill="#000" font-weight="bold" font-style="normal">d</text>
<line x1="73.1" y1="563.5" x2="73.1" y2="418.4" stroke="#000" stroke-width="2"/>
<line x1="69.1" y1="562.5" x2="73.1" y2="562.5" stroke="#000" stroke-width="2"/>
<text transform="translate(62.50 567.90) scale(1 1.1)" font-size="13.7" text-anchor="end" fill="#000" font-weight="normal" font-style="normal">0</text>
<line x1="69.1" y1="533.7" x2="73.1" y2="533.7" stroke="#000" stroke-width="2"/>
<text transform="translate(62.50 539.08) scale(1 1.1)" font-size="13.7" text-anchor="end" fill="#000" font-weight="normal" font-style="normal">0.5</text>
<line x1="69.1" y1="504.9" x2="73.1" y2="504.9" stroke="#000" stroke-width="2"/>
<text transform="translate(62.50 510.26) scale(1 1.1)" font-size="13.7" text-anchor="end" fill="#000" font-weight="normal" font-style="normal">1</text>
<line x1="69.1" y1="476.0" x2="73.1" y2="476.0" stroke="#000" stroke-width="2"/>
<text transform="translate(62.50 481.44) scale(1 1.1)" font-size="13.7" text-anchor="end" fill="#000" font-weight="normal" font-style="normal">1.5</text>
<line x1="69.1" y1="447.2" x2="73.1" y2="447.2" stroke="#000" stroke-width="2"/>
<text transform="translate(62.50 452.62) scale(1 1.1)" font-size="13.7" text-anchor="end" fill="#000" font-weight="normal" font-style="normal">2</text>
<line x1="69.1" y1="418.4" x2="73.1" y2="418.4" stroke="#000" stroke-width="2"/>
<text transform="translate(62.50 423.80) scale(1 1.1)" font-size="13.7" text-anchor="end" fill="#000" font-weight="normal" font-style="normal">2.5</text>
<line x1="73.1" y1="562.5" x2="201.0" y2="562.5" stroke="#000" stroke-width="2"/>
<line x1="88.8" y1="562.5" x2="88.8" y2="566.5" stroke="#000" stroke-width="2"/>
<text transform="translate(88.80 583.80) scale(1 1.1)" font-size="13.7" text-anchor="middle" fill="#000" font-weight="normal" font-style="normal">1</text>
<line x1="120.8" y1="562.5" x2="120.8" y2="566.5" stroke="#000" stroke-width="2"/>
<text transform="translate(120.80 583.80) scale(1 1.1)" font-size="13.7" text-anchor="middle" fill="#000" font-weight="normal" font-style="normal">2</text>
<line x1="152.3" y1="562.5" x2="152.3" y2="566.5" stroke="#000" stroke-width="2"/>
<text transform="translate(152.30 583.80) scale(1 1.1)" font-size="13.7" text-anchor="middle" fill="#000" font-weight="normal" font-style="normal">3</text>
<line x1="184.5" y1="562.5" x2="184.5" y2="566.5" stroke="#000" stroke-width="2"/>
<text transform="translate(184.50 583.80) scale(1 1.1)" font-size="13.7" text-anchor="middle" fill="#000" font-weight="normal" font-style="normal">4</text>
<line x1="88.0" y1="470.3" x2="190.0" y2="536.0" stroke="#000" stroke-width="2"/>
<line x1="88.8" y1="441.5" x2="88.8" y2="492.2" stroke="#000" stroke-width="2"/>
<line x1="83.3" y1="441.5" x2="94.3" y2="441.5" stroke="#000" stroke-width="2"/>
<line x1="83.3" y1="492.2" x2="94.3" y2="492.2" stroke="#000" stroke-width="2"/>
<rect x="82.8" y="461.4" width="12" height="12" fill="#e33a26" stroke="#000" stroke-width="2"/>
<line x1="120.8" y1="476.0" x2="120.8" y2="525.0" stroke="#000" stroke-width="2"/>
<line x1="115.3" y1="476.0" x2="126.3" y2="476.0" stroke="#000" stroke-width="2"/>
<line x1="115.3" y1="525.0" x2="126.3" y2="525.0" stroke="#000" stroke-width="2"/>
<circle cx="120.8" cy="500.8" r="6.0" fill="#e8584e" stroke="#000" stroke-width="2"/>
<line x1="152.3" y1="506.6" x2="152.3" y2="533.7" stroke="#000" stroke-width="2"/>
<line x1="146.8" y1="506.6" x2="157.8" y2="506.6" stroke="#000" stroke-width="2"/>
<line x1="146.8" y1="533.7" x2="157.8" y2="533.7" stroke="#000" stroke-width="2"/>
<polygon points="152.3,514.1 158.6,520.4 152.3,526.7 146.0,520.4" fill="#ef7d7b" stroke="#000" stroke-width="2"/>
<line x1="184.5" y1="518.7" x2="184.5" y2="546.4" stroke="#000" stroke-width="2"/>
<line x1="179.0" y1="518.7" x2="190.0" y2="518.7" stroke="#000" stroke-width="2"/>
<line x1="179.0" y1="546.4" x2="190.0" y2="546.4" stroke="#000" stroke-width="2"/>
<polygon points="184.5,528.8 190.2,539.1 178.8,539.1" fill="#f7cfd0" stroke="#000" stroke-width="2" stroke-linejoin="miter"/>
<text transform="translate(27.90 491.30) rotate(-90) scale(1 1.1)" font-size="13.7" text-anchor="middle" fill="#000" font-weight="normal" font-style="normal">Relative vocalizations</text>
<text transform="translate(138.50 607.80) scale(1 1.1)" font-size="13.7" text-anchor="middle" fill="#000" font-weight="normal" font-style="normal">Tube test rank</text>
<text transform="translate(142.50 433.30) scale(1 1.1)" font-size="13.7" text-anchor="start" fill="#000" font-weight="normal" font-style="normal"><tspan font-style="italic">r</tspan> = -0.975</text>
<text transform="translate(142.50 454.50) scale(1 1.1)" font-size="13.7" text-anchor="start" fill="#000" font-weight="normal" font-style="normal"><tspan font-style="italic">P</tspan> = 0.02</text>
<line x1="236.6" y1="564.8" x2="236.6" y2="420.5" stroke="#000" stroke-width="2"/>
<line x1="232.6" y1="563.8" x2="236.6" y2="563.8" stroke="#000" stroke-width="2"/>
<text transform="translate(225.50 569.20) scale(1 1.1)" font-size="13.7" text-anchor="end" fill="#000" font-weight="normal" font-style="normal">0</text>
<line x1="232.6" y1="535.1" x2="236.6" y2="535.1" stroke="#000" stroke-width="2"/>
<text transform="translate(225.50 540.55) scale(1 1.1)" font-size="13.7" text-anchor="end" fill="#000" font-weight="normal" font-style="normal">0.5</text>
<line x1="232.6" y1="506.5" x2="236.6" y2="506.5" stroke="#000" stroke-width="2"/>
<text transform="translate(225.50 511.90) scale(1 1.1)" font-size="13.7" text-anchor="end" fill="#000" font-weight="normal" font-style="normal">1</text>
<line x1="232.6" y1="477.8" x2="236.6" y2="477.8" stroke="#000" stroke-width="2"/>
<text transform="translate(225.50 483.25) scale(1 1.1)" font-size="13.7" text-anchor="end" fill="#000" font-weight="normal" font-style="normal">1.5</text>
<line x1="232.6" y1="449.2" x2="236.6" y2="449.2" stroke="#000" stroke-width="2"/>
<text transform="translate(225.50 454.60) scale(1 1.1)" font-size="13.7" text-anchor="end" fill="#000" font-weight="normal" font-style="normal">2</text>
<line x1="232.6" y1="420.5" x2="236.6" y2="420.5" stroke="#000" stroke-width="2"/>
<text transform="translate(225.50 425.95) scale(1 1.1)" font-size="13.7" text-anchor="end" fill="#000" font-weight="normal" font-style="normal">2.5</text>
<line x1="236.6" y1="506.5" x2="305.4" y2="506.5" stroke="#000" stroke-width="2"/>
<rect x="246" y="505.4" width="22" height="1.1" fill="#48bd3c" stroke="#000" stroke-width="2"/>
<line x1="257.6" y1="492.2" x2="257.6" y2="518.0" stroke="#000" stroke-width="2"/>
<line x1="251.6" y1="492.2" x2="263.6" y2="492.2" stroke="#000" stroke-width="2"/>
<line x1="251.6" y1="518.0" x2="263.6" y2="518.0" stroke="#000" stroke-width="2"/>
<rect x="273.5" y="506.5" width="22.5" height="4.6" fill="#4a4cb4" stroke="#000" stroke-width="2"/>
<line x1="284.4" y1="496.2" x2="284.4" y2="525.4" stroke="#000" stroke-width="2"/>
<line x1="278.4" y1="496.2" x2="290.4" y2="496.2" stroke="#000" stroke-width="2"/>
<line x1="278.4" y1="525.4" x2="290.4" y2="525.4" stroke="#000" stroke-width="2"/>
<text transform="translate(256.00 583.90) scale(1 1.1)" font-size="13.7" text-anchor="middle" fill="#000" font-weight="normal" font-style="normal">GFP</text>
<text transform="translate(288.00 583.90) scale(1 1.1)" font-size="13.7" text-anchor="middle" fill="#000" font-weight="normal" font-style="normal">GFP</text>
<text transform="translate(288.00 601.00) scale(1 1.1)" font-size="13.7" text-anchor="middle" fill="#000" font-weight="normal" font-style="normal">GluA1</text>
<text transform="translate(305.60 409.70)" font-size="21" text-anchor="start" fill="#000" font-weight="bold" font-style="normal">e</text>
<line x1="377.0" y1="564.4" x2="377.0" y2="422.1" stroke="#000" stroke-width="2"/>
<line x1="371.0" y1="563.4" x2="377.0" y2="563.4" stroke="#000" stroke-width="2"/>
<text transform="translate(365.50 568.80) scale(1 1.1)" font-size="13.7" text-anchor="end" fill="#000" font-weight="normal" font-style="normal">0</text>
<line x1="371.0" y1="545.7" x2="377.0" y2="545.7" stroke="#000" stroke-width="2"/>
<text transform="translate(365.50 551.14) scale(1 1.1)" font-size="13.7" text-anchor="end" fill="#000" font-weight="normal" font-style="normal">1</text>
<line x1="371.0" y1="528.1" x2="377.0" y2="528.1" stroke="#000" stroke-width="2"/>
<text transform="translate(365.50 533.48) scale(1 1.1)" font-size="13.7" text-anchor="end" fill="#000" font-weight="normal" font-style="normal">2</text>
<line x1="371.0" y1="510.4" x2="377.0" y2="510.4" stroke="#000" stroke-width="2"/>
<text transform="translate(365.50 515.82) scale(1 1.1)" font-size="13.7" text-anchor="end" fill="#000" font-weight="normal" font-style="normal">3</text>
<line x1="371.0" y1="492.8" x2="377.0" y2="492.8" stroke="#000" stroke-width="2"/>
<text transform="translate(365.50 498.16) scale(1 1.1)" font-size="13.7" text-anchor="end" fill="#000" font-weight="normal" font-style="normal">4</text>
<line x1="371.0" y1="475.1" x2="377.0" y2="475.1" stroke="#000" stroke-width="2"/>
<text transform="translate(365.50 480.50) scale(1 1.1)" font-size="13.7" text-anchor="end" fill="#000" font-weight="normal" font-style="normal">5</text>
<line x1="371.0" y1="457.4" x2="377.0" y2="457.4" stroke="#000" stroke-width="2"/>
<text transform="translate(365.50 462.84) scale(1 1.1)" font-size="13.7" text-anchor="end" fill="#000" font-weight="normal" font-style="normal">6</text>
<line x1="371.0" y1="439.8" x2="377.0" y2="439.8" stroke="#000" stroke-width="2"/>
<text transform="translate(365.50 445.18) scale(1 1.1)" font-size="13.7" text-anchor="end" fill="#000" font-weight="normal" font-style="normal">7</text>
<line x1="371.0" y1="422.1" x2="377.0" y2="422.1" stroke="#000" stroke-width="2"/>
<text transform="translate(365.50 427.52) scale(1 1.1)" font-size="13.7" text-anchor="end" fill="#000" font-weight="normal" font-style="normal">8</text>
<line x1="377.0" y1="563.4" x2="521.5" y2="563.4" stroke="#000" stroke-width="2"/>
<line x1="394.7" y1="563.4" x2="394.7" y2="568.4" stroke="#000" stroke-width="2"/>
<line x1="430.7" y1="563.4" x2="430.7" y2="568.4" stroke="#000" stroke-width="2"/>
<line x1="466.3" y1="563.4" x2="466.3" y2="568.4" stroke="#000" stroke-width="2"/>
<line x1="502.3" y1="563.4" x2="502.3" y2="568.4" stroke="#000" stroke-width="2"/>
<line x1="521.0" y1="563.4" x2="521.0" y2="568.4" stroke="#000" stroke-width="2"/>
<rect x="381.9" y="545.7" width="25" height="17.7" fill="#4a4cb4" stroke="#000" stroke-width="1.6"/>
<rect x="381.9" y="528.1" width="25" height="17.7" fill="#4a4cb4" stroke="#000" stroke-width="1.6"/>
<rect x="381.9" y="510.4" width="25" height="17.7" fill="#4a4cb4" stroke="#000" stroke-width="1.6"/>
<rect x="381.9" y="492.8" width="25" height="17.7" fill="#4a4cb4" stroke="#000" stroke-width="1.6"/>
<rect x="381.9" y="475.1" width="25" height="17.7" fill="#48bd3c" stroke="#000" stroke-width="1.6"/>
<rect x="381.9" y="457.4" width="25" height="17.7" fill="#48bd3c" stroke="#000" stroke-width="1.6"/>
<rect x="381.9" y="439.8" width="25" height="17.7" fill="#48bd3c" stroke="#000" stroke-width="1.6"/>
<rect x="381.9" y="422.1" width="25" height="17.7" fill="#48bd3c" stroke="#000" stroke-width="1.6"/>
<rect x="381.9" y="422.1" width="25" height="141.3" fill="none" stroke="#000" stroke-width="2"/>
<rect x="417.9" y="545.7" width="25" height="17.7" fill="#48bd3c" stroke="#000" stroke-width="1.6"/>
<rect x="417.9" y="528.1" width="25" height="17.7" fill="#48bd3c" stroke="#000" stroke-width="1.6"/>
<rect x="417.9" y="510.4" width="25" height="17.7" fill="#48bd3c" stroke="#000" stroke-width="1.6"/>
<rect x="417.9" y="492.8" width="25" height="17.7" fill="#48bd3c" stroke="#000" stroke-width="1.6"/>
<rect x="417.9" y="475.1" width="25" height="17.7" fill="#4a4cb4" stroke="#000" stroke-width="1.6"/>
<rect x="417.9" y="457.4" width="25" height="17.7" fill="#48bd3c" stroke="#000" stroke-width="1.6"/>
<rect x="417.9" y="439.8" width="25" height="17.7" fill="#48bd3c" stroke="#000" stroke-width="1.6"/>
<rect x="417.9" y="422.1" width="25" height="17.7" fill="#48bd3c" stroke="#000" stroke-width="1.6"/>
<rect x="417.9" y="422.1" width="25" height="141.3" fill="none" stroke="#000" stroke-width="2"/>
<rect x="453.5" y="545.7" width="25" height="17.7" fill="#48bd3c" stroke="#000" stroke-width="1.6"/>
<rect x="453.5" y="528.1" width="25" height="17.7" fill="#48bd3c" stroke="#000" stroke-width="1.6"/>
<rect x="453.5" y="510.4" width="25" height="17.7" fill="#48bd3c" stroke="#000" stroke-width="1.6"/>
<rect x="453.5" y="492.8" width="25" height="17.7" fill="#48bd3c" stroke="#000" stroke-width="1.6"/>
<rect x="453.5" y="475.1" width="25" height="17.7" fill="#48bd3c" stroke="#000" stroke-width="1.6"/>
<rect x="453.5" y="457.4" width="25" height="17.7" fill="#4a4cb4" stroke="#000" stroke-width="1.6"/>
<rect x="453.5" y="439.8" width="25" height="17.7" fill="#48bd3c" stroke="#000" stroke-width="1.6"/>
<rect x="453.5" y="422.1" width="25" height="17.7" fill="#48bd3c" stroke="#000" stroke-width="1.6"/>
<rect x="453.5" y="422.1" width="25" height="141.3" fill="none" stroke="#000" stroke-width="2"/>
<rect x="490.4" y="545.7" width="25" height="17.7" fill="#48bd3c" stroke="#000" stroke-width="1.6"/>
<rect x="490.4" y="528.1" width="25" height="17.7" fill="#48bd3c" stroke="#000" stroke-width="1.6"/>
<rect x="490.4" y="510.4" width="25" height="17.7" fill="#48bd3c" stroke="#000" stroke-width="1.6"/>
<rect x="490.4" y="492.8" width="25" height="17.7" fill="#48bd3c" stroke="#000" stroke-width="1.6"/>
<rect x="490.4" y="475.1" width="25" height="17.7" fill="#48bd3c" stroke="#000" stroke-width="1.6"/>
<rect x="490.4" y="457.4" width="25" height="17.7" fill="#48bd3c" stroke="#000" stroke-width="1.6"/>
<rect x="490.4" y="439.8" width="25" height="17.7" fill="#4a4cb4" stroke="#000" stroke-width="1.6"/>
<rect x="490.4" y="422.1" width="25" height="17.7" fill="#4a4cb4" stroke="#000" stroke-width="1.6"/>
<rect x="490.4" y="422.1" width="25" height="141.3" fill="none" stroke="#000" stroke-width="2"/>
<text transform="translate(394.70 584.30) scale(1 1.1)" font-size="13.7" text-anchor="middle" fill="#000" font-weight="normal" font-style="normal">1</text>
<text transform="translate(430.70 584.30) scale(1 1.1)" font-size="13.7" text-anchor="middle" fill="#000" font-weight="normal" font-style="normal">2</text>
<text transform="translate(466.30 584.30) scale(1 1.1)" font-size="13.7" text-anchor="middle" fill="#000" font-weight="normal" font-style="normal">3</text>
<text transform="translate(502.30 584.30) scale(1 1.1)" font-size="13.7" text-anchor="middle" fill="#000" font-weight="normal" font-style="normal">4</text>
<text transform="translate(447.70 605.20) scale(1 1.1)" font-size="13.7" text-anchor="middle" fill="#000" font-weight="normal" font-style="normal">Tube test rank</text>
<text transform="translate(331.80 494.30) rotate(-90) scale(1 1.1)" font-size="14" text-anchor="middle" fill="#000" font-weight="normal" font-style="normal">Number of social groups</text>
<rect x="386.7" y="401.2" width="14.5" height="8.5" fill="#48bd3c"/>
<rect x="428.5" y="401.2" width="13.8" height="8.5" fill="#4a4cb4"/>
<text transform="translate(404.00 409.90)" font-size="12.5" text-anchor="start" fill="#000" font-weight="normal" font-style="normal" textLength="22" lengthAdjust="spacingAndGlyphs">GFP</text>
<text transform="translate(444.50 409.90)" font-size="12.5" text-anchor="start" fill="#000" font-weight="normal" font-style="normal" textLength="59.5" lengthAdjust="spacingAndGlyphs">GFP-GluA1</text>
<text transform="translate(531.70 408.40)" font-size="21" text-anchor="start" fill="#000" font-weight="bold" font-style="normal">h</text>
<line x1="602.0" y1="552.7" x2="602.0" y2="409.2" stroke="#000" stroke-width="2"/>
<line x1="598.0" y1="551.7" x2="602.0" y2="551.7" stroke="#000" stroke-width="2"/>
<text transform="translate(592.00 557.10) scale(1 1.1)" font-size="13.7" text-anchor="end" fill="#000" font-weight="normal" font-style="normal">0</text>
<line x1="598.0" y1="516.1" x2="602.0" y2="516.1" stroke="#000" stroke-width="2"/>
<text transform="translate(592.00 521.47) scale(1 1.1)" font-size="13.7" text-anchor="end" fill="#000" font-weight="normal" font-style="normal">25</text>
<line x1="598.0" y1="480.5" x2="602.0" y2="480.5" stroke="#000" stroke-width="2"/>
<text transform="translate(592.00 485.85) scale(1 1.1)" font-size="13.7" text-anchor="end" fill="#000" font-weight="normal" font-style="normal">50</text>
<line x1="598.0" y1="444.8" x2="602.0" y2="444.8" stroke="#000" stroke-width="2"/>
<text transform="translate(592.00 450.22) scale(1 1.1)" font-size="13.7" text-anchor="end" fill="#000" font-weight="normal" font-style="normal">75</text>
<line x1="598.0" y1="409.2" x2="602.0" y2="409.2" stroke="#000" stroke-width="2"/>
<text transform="translate(592.00 414.60) scale(1 1.1)" font-size="13.7" text-anchor="end" fill="#000" font-weight="normal" font-style="normal">100</text>
<line x1="602.0" y1="551.7" x2="668.9" y2="551.7" stroke="#000" stroke-width="2"/>
<rect x="608.4" y="474.0" width="21.7" height="77.7" fill="#48bd3c" stroke="#000" stroke-width="2"/>
<rect x="641.6" y="473.3" width="21.7" height="78.4" fill="#4a4cb4" stroke="#000" stroke-width="2"/>
<line x1="619.2" y1="471.9" x2="619.2" y2="476.2" stroke="#000" stroke-width="2.5"/>
<line x1="614.2" y1="471.9" x2="624.2" y2="471.9" stroke="#000" stroke-width="2.5"/>
<line x1="614.2" y1="476.2" x2="624.2" y2="476.2" stroke="#000" stroke-width="2.5"/>
<line x1="652.4" y1="471.5" x2="652.4" y2="475.0" stroke="#000" stroke-width="2.5"/>
<line x1="647.4" y1="471.5" x2="657.4" y2="471.5" stroke="#000" stroke-width="2.5"/>
<line x1="647.4" y1="475.0" x2="657.4" y2="475.0" stroke="#000" stroke-width="2.5"/>
<text transform="translate(616.80 582.10) scale(1 1.1)" font-size="13.7" text-anchor="middle" fill="#000" font-weight="normal" font-style="normal">GFP</text>
<text transform="translate(652.60 582.10) scale(1 1.1)" font-size="13.7" text-anchor="middle" fill="#000" font-weight="normal" font-style="normal">GFP</text>
<text transform="translate(651.80 598.20) scale(1 1.1)" font-size="13.7" text-anchor="middle" fill="#000" font-weight="normal" font-style="normal">GluA1</text>
<text transform="translate(557.50 492.70) rotate(-90) scale(1 1.1)" font-size="13.7" text-anchor="middle" fill="#000" font-weight="normal" font-style="normal">% Lymphocytes</text>
<text transform="translate(7.80 638.60)" font-size="21" text-anchor="start" fill="#000" font-weight="bold" font-style="normal">f</text>
<line x1="71.2" y1="787.4" x2="71.2" y2="645.3" stroke="#000" stroke-width="2"/>
<line x1="67.2" y1="786.4" x2="71.2" y2="786.4" stroke="#000" stroke-width="2"/>
<text transform="translate(62.50 791.80) scale(1 1.1)" font-size="13.7" text-anchor="end" fill="#000" font-weight="normal" font-style="normal">0</text>
<line x1="67.2" y1="758.2" x2="71.2" y2="758.2" stroke="#000" stroke-width="2"/>
<text transform="translate(62.50 763.58) scale(1 1.1)" font-size="13.7" text-anchor="end" fill="#000" font-weight="normal" font-style="normal">100</text>
<line x1="67.2" y1="730.0" x2="71.2" y2="730.0" stroke="#000" stroke-width="2"/>
<text transform="translate(62.50 735.36) scale(1 1.1)" font-size="13.7" text-anchor="end" fill="#000" font-weight="normal" font-style="normal">200</text>
<line x1="67.2" y1="701.7" x2="71.2" y2="701.7" stroke="#000" stroke-width="2"/>
<text transform="translate(62.50 707.14) scale(1 1.1)" font-size="13.7" text-anchor="end" fill="#000" font-weight="normal" font-style="normal">300</text>
<line x1="67.2" y1="673.5" x2="71.2" y2="673.5" stroke="#000" stroke-width="2"/>
<text transform="translate(62.50 678.92) scale(1 1.1)" font-size="13.7" text-anchor="end" fill="#000" font-weight="normal" font-style="normal">400</text>
<line x1="67.2" y1="645.3" x2="71.2" y2="645.3" stroke="#000" stroke-width="2"/>
<text transform="translate(62.50 650.70) scale(1 1.1)" font-size="13.7" text-anchor="end" fill="#000" font-weight="normal" font-style="normal">500</text>
<line x1="71.2" y1="786.4" x2="216.6" y2="786.4" stroke="#000" stroke-width="2"/>
<line x1="92.0" y1="786.4" x2="92.0" y2="790.4" stroke="#000" stroke-width="2"/>
<line x1="127.5" y1="786.4" x2="127.5" y2="790.4" stroke="#000" stroke-width="2"/>
<line x1="162.9" y1="786.4" x2="162.9" y2="790.4" stroke="#000" stroke-width="2"/>
<line x1="198.6" y1="786.4" x2="198.6" y2="790.4" stroke="#000" stroke-width="2"/>
<line x1="216.0" y1="786.4" x2="216.0" y2="790.4" stroke="#000" stroke-width="2"/>
<text transform="translate(92.00 807.90) scale(1 1.1)" font-size="13.7" text-anchor="middle" fill="#000" font-weight="normal" font-style="normal">1</text>
<text transform="translate(127.50 807.90) scale(1 1.1)" font-size="13.7" text-anchor="middle" fill="#000" font-weight="normal" font-style="normal">2</text>
<text transform="translate(162.90 807.90) scale(1 1.1)" font-size="13.7" text-anchor="middle" fill="#000" font-weight="normal" font-style="normal">3</text>
<text transform="translate(198.60 807.90) scale(1 1.1)" font-size="13.7" text-anchor="middle" fill="#000" font-weight="normal" font-style="normal">4</text>
<text transform="translate(145.00 830.70) scale(1 1.1)" font-size="13.7" text-anchor="middle" fill="#000" font-weight="normal" font-style="normal">Tube test rank</text>
<text transform="translate(34.70 716.50) rotate(-90) scale(1 1.1)" font-size="13.7" text-anchor="middle" fill="#000" font-weight="normal" font-style="normal">Corticosterone (ng/mL)</text>
<polyline points="92.0,720.4 127.5,715.9 162.9,654.3 198.6,706.5" fill="none" stroke="#aaaaaa" stroke-width="2"/>
<polyline points="92.0,736.7 127.5,766.6 162.9,770.9 198.6,780.8" fill="none" stroke="#aaaaaa" stroke-width="2"/>
<polyline points="92.0,746.6 127.5,761.0 162.9,758.2 198.6,763.8" fill="none" stroke="#aaaaaa" stroke-width="2"/>
<polyline points="92.0,757.3 127.5,764.4 162.9,752.3 198.6,748.0" fill="none" stroke="#aaaaaa" stroke-width="2"/>
<polyline points="92.0,764.4 127.5,768.6 162.9,759.3 198.6,757.3" fill="none" stroke="#aaaaaa" stroke-width="2"/>
<polyline points="92.0,773.7 127.5,756.2 162.9,765.5 198.6,771.4" fill="none" stroke="#aaaaaa" stroke-width="2"/>
<polyline points="92.0,777.7 127.5,778.8 162.9,775.7 198.6,779.6" fill="none" stroke="#aaaaaa" stroke-width="2"/>
<polyline points="92.0,769.5 127.5,761.3 162.9,770.9 198.6,755.4" fill="none" stroke="#aaaaaa" stroke-width="2"/>
<rect x="86.5" y="714.9" width="11" height="11" fill="none" stroke="#48bd3c" stroke-width="2"/>
<polygon points="162.9,648.6 168.7,654.3 162.9,660.1 157.1,654.3" fill="none" stroke="#48bd3c" stroke-width="2"/>
<polygon points="198.6,701.1 203.8,710.5 193.4,710.5" fill="none" stroke="#48bd3c" stroke-width="2" stroke-linejoin="miter"/>
<rect x="86.5" y="731.2" width="11" height="11" fill="none" stroke="#48bd3c" stroke-width="2"/>
<circle cx="127.5" cy="766.6" r="5.5" fill="none" stroke="#48bd3c" stroke-width="2"/>
<polygon points="162.9,765.1 168.7,770.9 162.9,776.7 157.1,770.9" fill="none" stroke="#48bd3c" stroke-width="2"/>
<polygon points="198.6,775.3 203.8,784.7 193.4,784.7" fill="none" stroke="#48bd3c" stroke-width="2" stroke-linejoin="miter"/>
<rect x="86.5" y="741.1" width="11" height="11" fill="none" stroke="#48bd3c" stroke-width="2"/>
<circle cx="127.5" cy="761.0" r="5.5" fill="none" stroke="#48bd3c" stroke-width="2"/>
<polygon points="162.9,752.4 168.7,758.2 162.9,764.0 157.1,758.2" fill="none" stroke="#48bd3c" stroke-width="2"/>
<polygon points="198.6,758.3 203.8,767.7 193.4,767.7" fill="none" stroke="#48bd3c" stroke-width="2" stroke-linejoin="miter"/>
<circle cx="127.5" cy="764.4" r="5.5" fill="none" stroke="#48bd3c" stroke-width="2"/>
<polygon points="162.9,746.5 168.7,752.3 162.9,758.0 157.1,752.3" fill="none" stroke="#48bd3c" stroke-width="2"/>
<circle cx="127.5" cy="768.6" r="5.5" fill="none" stroke="#48bd3c" stroke-width="2"/>
<polygon points="162.9,753.5 168.7,759.3 162.9,765.1 157.1,759.3" fill="none" stroke="#48bd3c" stroke-width="2"/>
<circle cx="127.5" cy="756.2" r="5.5" fill="none" stroke="#48bd3c" stroke-width="2"/>
<polygon points="162.9,759.7 168.7,765.5 162.9,771.3 157.1,765.5" fill="none" stroke="#48bd3c" stroke-width="2"/>
<polygon points="198.6,766.0 203.8,775.4 193.4,775.4" fill="none" stroke="#48bd3c" stroke-width="2" stroke-linejoin="miter"/>
<rect x="86.5" y="772.2" width="11" height="11" fill="none" stroke="#48bd3c" stroke-width="2"/>
<circle cx="127.5" cy="778.8" r="5.5" fill="none" stroke="#48bd3c" stroke-width="2"/>
<polygon points="198.6,774.1 203.8,783.5 193.4,783.5" fill="none" stroke="#48bd3c" stroke-width="2" stroke-linejoin="miter"/>
<rect x="86.5" y="764.0" width="11" height="11" fill="none" stroke="#48bd3c" stroke-width="2"/>
<circle cx="127.5" cy="761.3" r="5.5" fill="none" stroke="#48bd3c" stroke-width="2"/>
<polygon points="162.9,765.1 168.7,770.9 162.9,776.7 157.1,770.9" fill="none" stroke="#48bd3c" stroke-width="2"/>
<polygon points="198.6,749.9 203.8,759.3 193.4,759.3" fill="none" stroke="#48bd3c" stroke-width="2" stroke-linejoin="miter"/>
<circle cx="127.5" cy="715.9" r="5.5" fill="none" stroke="#4a4cb4" stroke-width="2"/>
<rect x="86.5" y="751.8" width="11" height="11" fill="none" stroke="#4a4cb4" stroke-width="2"/>
<polygon points="198.6,742.5 203.8,751.9 193.4,751.9" fill="none" stroke="#4a4cb4" stroke-width="2" stroke-linejoin="miter"/>
<rect x="86.5" y="758.9" width="11" height="11" fill="none" stroke="#4a4cb4" stroke-width="2"/>
<polygon points="198.6,751.8 203.8,761.3 193.4,761.3" fill="none" stroke="#4a4cb4" stroke-width="2" stroke-linejoin="miter"/>
<rect x="86.5" y="768.2" width="11" height="11" fill="none" stroke="#4a4cb4" stroke-width="2"/>
<polygon points="162.9,769.9 168.7,775.7 162.9,781.5 157.1,775.7" fill="none" stroke="#4a4cb4" stroke-width="2"/>
<text transform="translate(235.50 638.60)" font-size="21" text-anchor="start" fill="#000" font-weight="bold" font-style="normal">g</text>
<line x1="300.3" y1="782.0" x2="300.3" y2="632.9" stroke="#000" stroke-width="2"/>
<line x1="296.3" y1="781.0" x2="300.3" y2="781.0" stroke="#000" stroke-width="2"/>
<text transform="translate(292.00 786.40) scale(1 1.1)" font-size="13.7" text-anchor="end" fill="#000" font-weight="normal" font-style="normal">0.40</text>
<line x1="296.3" y1="756.3" x2="300.3" y2="756.3" stroke="#000" stroke-width="2"/>
<text transform="translate(292.00 761.72) scale(1 1.1)" font-size="13.7" text-anchor="end" fill="#000" font-weight="normal" font-style="normal">0.60</text>
<line x1="296.3" y1="731.6" x2="300.3" y2="731.6" stroke="#000" stroke-width="2"/>
<text transform="translate(292.00 737.04) scale(1 1.1)" font-size="13.7" text-anchor="end" fill="#000" font-weight="normal" font-style="normal">0.80</text>
<line x1="296.3" y1="707.0" x2="300.3" y2="707.0" stroke="#000" stroke-width="2"/>
<text transform="translate(292.00 712.36) scale(1 1.1)" font-size="13.7" text-anchor="end" fill="#000" font-weight="normal" font-style="normal">1.00</text>
<line x1="296.3" y1="682.3" x2="300.3" y2="682.3" stroke="#000" stroke-width="2"/>
<text transform="translate(292.00 687.68) scale(1 1.1)" font-size="13.7" text-anchor="end" fill="#000" font-weight="normal" font-style="normal">1.20</text>
<line x1="296.3" y1="657.6" x2="300.3" y2="657.6" stroke="#000" stroke-width="2"/>
<text transform="translate(292.00 663.00) scale(1 1.1)" font-size="13.7" text-anchor="end" fill="#000" font-weight="normal" font-style="normal">1.40</text>
<line x1="296.3" y1="632.9" x2="300.3" y2="632.9" stroke="#000" stroke-width="2"/>
<text transform="translate(292.00 638.32) scale(1 1.1)" font-size="13.7" text-anchor="end" fill="#000" font-weight="normal" font-style="normal">1.60</text>
<line x1="300.3" y1="707.0" x2="429.4" y2="707.0" stroke="#000" stroke-width="2"/>
<rect x="305.8" y="699.6" width="22.1" height="7.4" fill="#e03a22" stroke="#000" stroke-width="2"/>
<line x1="316.8" y1="686.0" x2="316.8" y2="713.1" stroke="#000" stroke-width="2"/>
<line x1="311.8" y1="686.0" x2="321.8" y2="686.0" stroke="#000" stroke-width="2"/>
<line x1="311.8" y1="713.1" x2="321.8" y2="713.1" stroke="#000" stroke-width="2"/>
<rect x="338.0" y="707.0" width="22.1" height="11.1" fill="#e85a52" stroke="#000" stroke-width="2"/>
<line x1="349.0" y1="708.2" x2="349.0" y2="729.2" stroke="#000" stroke-width="2"/>
<line x1="344.0" y1="708.2" x2="354.0" y2="708.2" stroke="#000" stroke-width="2"/>
<line x1="344.0" y1="729.2" x2="354.0" y2="729.2" stroke="#000" stroke-width="2"/>
<rect x="369.6" y="698.3" width="22.1" height="8.6" fill="#f08a86" stroke="#000" stroke-width="2"/>
<line x1="380.6" y1="686.0" x2="380.6" y2="710.7" stroke="#000" stroke-width="2"/>
<line x1="375.6" y1="686.0" x2="385.6" y2="686.0" stroke="#000" stroke-width="2"/>
<line x1="375.6" y1="710.7" x2="385.6" y2="710.7" stroke="#000" stroke-width="2"/>
<rect x="401.5" y="707.0" width="22.1" height="4.9" fill="#f8d4d4" stroke="#000" stroke-width="2"/>
<line x1="412.5" y1="697.1" x2="412.5" y2="726.7" stroke="#000" stroke-width="2"/>
<line x1="407.5" y1="697.1" x2="417.5" y2="697.1" stroke="#000" stroke-width="2"/>
<line x1="407.5" y1="726.7" x2="417.5" y2="726.7" stroke="#000" stroke-width="2"/>
<text transform="translate(317.00 801.50) scale(1 1.1)" font-size="13.7" text-anchor="middle" fill="#000" font-weight="normal" font-style="normal">1</text>
<text transform="translate(349.00 801.50) scale(1 1.1)" font-size="13.7" text-anchor="middle" fill="#000" font-weight="normal" font-style="normal">2</text>
<text transform="translate(380.60 801.50) scale(1 1.1)" font-size="13.7" text-anchor="middle" fill="#000" font-weight="normal" font-style="normal">3</text>
<text transform="translate(412.70 801.50) scale(1 1.1)" font-size="13.7" text-anchor="middle" fill="#000" font-weight="normal" font-style="normal">4</text>
<text transform="translate(366.70 831.00) scale(1 1.1)" font-size="13.7" text-anchor="middle" fill="#000" font-weight="normal" font-style="normal">Tube test rank</text>
<text transform="translate(258.20 714.50) rotate(-90) scale(1 1.1)" font-size="13.7" text-anchor="middle" fill="#000" font-weight="normal" font-style="normal">Relative corticosterone</text>
<line x1="465.2" y1="789.5" x2="465.2" y2="647.0" stroke="#000" stroke-width="2"/>
<line x1="461.2" y1="788.5" x2="465.2" y2="788.5" stroke="#000" stroke-width="2"/>
<text transform="translate(452.50 793.90) scale(1 1.1)" font-size="13.7" text-anchor="end" fill="#000" font-weight="normal" font-style="normal">0.4</text>
<line x1="461.2" y1="764.9" x2="465.2" y2="764.9" stroke="#000" stroke-width="2"/>
<text transform="translate(452.50 770.32) scale(1 1.1)" font-size="13.7" text-anchor="end" fill="#000" font-weight="normal" font-style="normal">0.6</text>
<line x1="461.2" y1="741.3" x2="465.2" y2="741.3" stroke="#000" stroke-width="2"/>
<text transform="translate(452.50 746.74) scale(1 1.1)" font-size="13.7" text-anchor="end" fill="#000" font-weight="normal" font-style="normal">0.8</text>
<line x1="461.2" y1="717.8" x2="465.2" y2="717.8" stroke="#000" stroke-width="2"/>
<text transform="translate(452.50 723.16) scale(1 1.1)" font-size="13.7" text-anchor="end" fill="#000" font-weight="normal" font-style="normal">1</text>
<line x1="461.2" y1="694.2" x2="465.2" y2="694.2" stroke="#000" stroke-width="2"/>
<text transform="translate(452.50 699.58) scale(1 1.1)" font-size="13.7" text-anchor="end" fill="#000" font-weight="normal" font-style="normal">1.2</text>
<line x1="461.2" y1="670.6" x2="465.2" y2="670.6" stroke="#000" stroke-width="2"/>
<text transform="translate(452.50 676.00) scale(1 1.1)" font-size="13.7" text-anchor="end" fill="#000" font-weight="normal" font-style="normal">1.4</text>
<line x1="461.2" y1="647.0" x2="465.2" y2="647.0" stroke="#000" stroke-width="2"/>
<text transform="translate(452.50 652.42) scale(1 1.1)" font-size="13.7" text-anchor="end" fill="#000" font-weight="normal" font-style="normal">1.6</text>
<line x1="465.2" y1="717.8" x2="529.5" y2="717.8" stroke="#000" stroke-width="2"/>
<line x1="496.6" y1="717.8" x2="496.6" y2="721.8" stroke="#000" stroke-width="2"/>
<line x1="529.5" y1="717.8" x2="529.5" y2="721.8" stroke="#000" stroke-width="2"/>
<rect x="469.0" y="717.8" width="22.8" height="1.2" fill="#48bd3c" stroke="#000" stroke-width="2"/>
<line x1="480.4" y1="711.9" x2="480.4" y2="726.0" stroke="#000" stroke-width="2"/>
<line x1="474.9" y1="711.9" x2="485.9" y2="711.9" stroke="#000" stroke-width="2"/>
<line x1="474.9" y1="726.0" x2="485.9" y2="726.0" stroke="#000" stroke-width="2"/>
<rect x="501.5" y="714.2" width="22.7" height="3.5" fill="#4a4cb4" stroke="#000" stroke-width="2"/>
<line x1="512.8" y1="703.6" x2="512.8" y2="722.5" stroke="#000" stroke-width="2"/>
<line x1="507.3" y1="703.6" x2="518.3" y2="703.6" stroke="#000" stroke-width="2"/>
<line x1="507.3" y1="722.5" x2="518.3" y2="722.5" stroke="#000" stroke-width="2"/>
<text transform="translate(482.20 810.40) scale(1 1.1)" font-size="13.7" text-anchor="middle" fill="#000" font-weight="normal" font-style="normal">GFP</text>
<text transform="translate(514.60 810.40) scale(1 1.1)" font-size="13.7" text-anchor="middle" fill="#000" font-weight="normal" font-style="normal">GFP</text>
<text transform="translate(513.70 826.20) scale(1 1.1)" font-size="13.7" text-anchor="middle" fill="#000" font-weight="normal" font-style="normal">GluA1</text>
<text transform="translate(541.30 639.80)" font-size="21" text-anchor="start" fill="#000" font-weight="bold" font-style="normal">h</text>
<line x1="603.1" y1="790.5" x2="603.1" y2="647.0" stroke="#000" stroke-width="2"/>
<line x1="599.1" y1="789.5" x2="603.1" y2="789.5" stroke="#000" stroke-width="2"/>
<text transform="translate(592.50 794.90) scale(1 1.1)" font-size="13.7" text-anchor="end" fill="#000" font-weight="normal" font-style="normal">0</text>
<line x1="599.1" y1="753.9" x2="603.1" y2="753.9" stroke="#000" stroke-width="2"/>
<text transform="translate(592.50 759.27) scale(1 1.1)" font-size="13.7" text-anchor="end" fill="#000" font-weight="normal" font-style="normal">5</text>
<line x1="599.1" y1="718.2" x2="603.1" y2="718.2" stroke="#000" stroke-width="2"/>
<text transform="translate(592.50 723.65) scale(1 1.1)" font-size="13.7" text-anchor="end" fill="#000" font-weight="normal" font-style="normal">10</text>
<line x1="599.1" y1="682.6" x2="603.1" y2="682.6" stroke="#000" stroke-width="2"/>
<text transform="translate(592.50 688.02) scale(1 1.1)" font-size="13.7" text-anchor="end" fill="#000" font-weight="normal" font-style="normal">15</text>
<line x1="599.1" y1="647.0" x2="603.1" y2="647.0" stroke="#000" stroke-width="2"/>
<text transform="translate(592.50 652.40) scale(1 1.1)" font-size="13.7" text-anchor="end" fill="#000" font-weight="normal" font-style="normal">20</text>
<line x1="603.1" y1="789.5" x2="669.3" y2="789.5" stroke="#000" stroke-width="2"/>
<rect x="607.9" y="704.7" width="23.4" height="84.8" fill="#48bd3c" stroke="#000" stroke-width="2"/>
<line x1="619.6" y1="700.8" x2="619.6" y2="708.6" stroke="#000" stroke-width="2"/>
<line x1="614.1" y1="700.8" x2="625.1" y2="700.8" stroke="#000" stroke-width="2"/>
<line x1="614.1" y1="708.6" x2="625.1" y2="708.6" stroke="#000" stroke-width="2"/>
<rect x="641.1" y="719.0" width="22.9" height="70.5" fill="#4a4cb4" stroke="#000" stroke-width="2"/>
<line x1="652.5" y1="713.3" x2="652.5" y2="724.7" stroke="#000" stroke-width="2"/>
<line x1="647.0" y1="713.3" x2="658.0" y2="713.3" stroke="#000" stroke-width="2"/>
<line x1="647.0" y1="724.7" x2="658.0" y2="724.7" stroke="#000" stroke-width="2"/>
<text transform="translate(618.70 812.00) scale(1 1.1)" font-size="13.7" text-anchor="middle" fill="#000" font-weight="normal" font-style="normal">GFP</text>
<text transform="translate(653.70 812.00) scale(1 1.1)" font-size="13.7" text-anchor="middle" fill="#000" font-weight="normal" font-style="normal">GFP</text>
<text transform="translate(653.70 827.60) scale(1 1.1)" font-size="13.7" text-anchor="middle" fill="#000" font-weight="normal" font-style="normal">GluA1</text>
<text transform="translate(567.90 726.30) rotate(-90) scale(1 1.1)" font-size="13.7" text-anchor="middle" fill="#000" font-weight="normal" font-style="normal">% CD8+ of lymphocytes</text>
<text transform="translate(-0.30 867.80)" font-size="21" text-anchor="start" fill="#000" font-weight="bold" font-style="normal">i</text>
<line x1="68.8" y1="1019.6" x2="68.8" y2="879.3" stroke="#000" stroke-width="2"/>
<line x1="64.8" y1="1018.6" x2="68.8" y2="1018.6" stroke="#000" stroke-width="2"/>
<text transform="translate(59.50 1024.00) scale(1 1.1)" font-size="13.7" text-anchor="end" fill="#000" font-weight="normal" font-style="normal">0</text>
<line x1="64.8" y1="990.7" x2="68.8" y2="990.7" stroke="#000" stroke-width="2"/>
<text transform="translate(59.50 996.14) scale(1 1.1)" font-size="13.7" text-anchor="end" fill="#000" font-weight="normal" font-style="normal">5</text>
<line x1="64.8" y1="962.9" x2="68.8" y2="962.9" stroke="#000" stroke-width="2"/>
<text transform="translate(59.50 968.28) scale(1 1.1)" font-size="13.7" text-anchor="end" fill="#000" font-weight="normal" font-style="normal">10</text>
<line x1="64.8" y1="935.0" x2="68.8" y2="935.0" stroke="#000" stroke-width="2"/>
<text transform="translate(59.50 940.42) scale(1 1.1)" font-size="13.7" text-anchor="end" fill="#000" font-weight="normal" font-style="normal">15</text>
<line x1="64.8" y1="907.2" x2="68.8" y2="907.2" stroke="#000" stroke-width="2"/>
<text transform="translate(59.50 912.56) scale(1 1.1)" font-size="13.7" text-anchor="end" fill="#000" font-weight="normal" font-style="normal">20</text>
<line x1="64.8" y1="879.3" x2="68.8" y2="879.3" stroke="#000" stroke-width="2"/>
<text transform="translate(59.50 884.70) scale(1 1.1)" font-size="13.7" text-anchor="end" fill="#000" font-weight="normal" font-style="normal">25</text>
<line x1="68.8" y1="1018.6" x2="218.3" y2="1018.6" stroke="#000" stroke-width="2"/>
<line x1="81.6" y1="1018.6" x2="81.6" y2="1022.6" stroke="#000" stroke-width="2"/>
<line x1="106.8" y1="1018.6" x2="106.8" y2="1022.6" stroke="#000" stroke-width="2"/>
<line x1="132.0" y1="1018.6" x2="132.0" y2="1022.6" stroke="#000" stroke-width="2"/>
<line x1="156.1" y1="1018.6" x2="156.1" y2="1022.6" stroke="#000" stroke-width="2"/>
<line x1="181.3" y1="1018.6" x2="181.3" y2="1022.6" stroke="#000" stroke-width="2"/>
<line x1="205.8" y1="1018.6" x2="205.8" y2="1022.6" stroke="#000" stroke-width="2"/>
<line x1="218.0" y1="1018.6" x2="218.0" y2="1022.6" stroke="#000" stroke-width="2"/>
<text transform="translate(81.60 1039.50) scale(1 1.1)" font-size="13.7" text-anchor="middle" fill="#000" font-weight="normal" font-style="normal">7</text>
<text transform="translate(106.80 1039.50) scale(1 1.1)" font-size="13.7" text-anchor="middle" fill="#000" font-weight="normal" font-style="normal">10</text>
<text transform="translate(132.00 1039.50) scale(1 1.1)" font-size="13.7" text-anchor="middle" fill="#000" font-weight="normal" font-style="normal">12</text>
<text transform="translate(156.10 1039.50) scale(1 1.1)" font-size="13.7" text-anchor="middle" fill="#000" font-weight="normal" font-style="normal">14</text>
<text transform="translate(181.30 1039.50) scale(1 1.1)" font-size="13.7" text-anchor="middle" fill="#000" font-weight="normal" font-style="normal">17</text>
<text transform="translate(205.80 1039.50) scale(1 1.1)" font-size="13.7" text-anchor="middle" fill="#000" font-weight="normal" font-style="normal">20</text>
<text transform="translate(155.80 1062.20) scale(1 1.1)" font-size="13.7" text-anchor="middle" fill="#000" font-weight="normal" font-style="normal">Days after vaccination</text>
<text transform="translate(31.40 947.60) rotate(-90) scale(1 1.1)" font-size="13.7" text-anchor="middle" fill="#000" font-weight="normal" font-style="normal">% gB+ of CD8+ T-cells</text>
<polyline points="81.6,1013.0 106.8,991.9 132.0,952.9 156.1,923.9 181.3,968.5 205.8,971.2" fill="none" stroke="#000" stroke-width="2"/>
<polyline points="81.6,1014.1 106.8,989.6 132.0,959.0 156.1,926.7 181.3,957.3 205.8,971.2" fill="none" stroke="#000" stroke-width="2"/>
<polyline points="81.6,1014.1 106.8,993.5 132.0,965.7 156.1,954.5 181.3,974.0 205.8,975.1" fill="none" stroke="#000" stroke-width="2"/>
<polyline points="81.6,1014.1 106.8,995.2 132.0,967.3 156.1,945.0 181.3,960.1 205.8,975.1" fill="none" stroke="#000" stroke-width="2"/>
<line x1="81.6" y1="1011.4" x2="81.6" y2="1014.7" stroke="#000" stroke-width="2"/>
<line x1="76.6" y1="1011.4" x2="86.6" y2="1011.4" stroke="#000" stroke-width="2"/>
<line x1="76.6" y1="1014.7" x2="86.6" y2="1014.7" stroke="#000" stroke-width="2"/>
<line x1="106.8" y1="987.4" x2="106.8" y2="996.3" stroke="#000" stroke-width="2"/>
<line x1="101.8" y1="987.4" x2="111.8" y2="987.4" stroke="#000" stroke-width="2"/>
<line x1="101.8" y1="996.3" x2="111.8" y2="996.3" stroke="#000" stroke-width="2"/>
<line x1="132.0" y1="942.8" x2="132.0" y2="962.9" stroke="#000" stroke-width="2"/>
<line x1="127.0" y1="942.8" x2="137.0" y2="942.8" stroke="#000" stroke-width="2"/>
<line x1="127.0" y1="962.9" x2="137.0" y2="962.9" stroke="#000" stroke-width="2"/>
<line x1="156.1" y1="901.6" x2="156.1" y2="946.2" stroke="#000" stroke-width="2"/>
<line x1="151.1" y1="901.6" x2="161.1" y2="901.6" stroke="#000" stroke-width="2"/>
<line x1="151.1" y1="946.2" x2="161.1" y2="946.2" stroke="#000" stroke-width="2"/>
<line x1="181.3" y1="960.1" x2="181.3" y2="976.8" stroke="#000" stroke-width="2"/>
<line x1="176.3" y1="960.1" x2="186.3" y2="960.1" stroke="#000" stroke-width="2"/>
<line x1="176.3" y1="976.8" x2="186.3" y2="976.8" stroke="#000" stroke-width="2"/>
<line x1="205.8" y1="962.9" x2="205.8" y2="979.6" stroke="#000" stroke-width="2"/>
<line x1="200.8" y1="962.9" x2="210.8" y2="962.9" stroke="#000" stroke-width="2"/>
<line x1="200.8" y1="979.6" x2="210.8" y2="979.6" stroke="#000" stroke-width="2"/>
<line x1="81.6" y1="1012.5" x2="81.6" y2="1015.8" stroke="#000" stroke-width="2"/>
<line x1="76.6" y1="1012.5" x2="86.6" y2="1012.5" stroke="#000" stroke-width="2"/>
<line x1="76.6" y1="1015.8" x2="86.6" y2="1015.8" stroke="#000" stroke-width="2"/>
<line x1="106.8" y1="985.2" x2="106.8" y2="994.1" stroke="#000" stroke-width="2"/>
<line x1="101.8" y1="985.2" x2="111.8" y2="985.2" stroke="#000" stroke-width="2"/>
<line x1="101.8" y1="994.1" x2="111.8" y2="994.1" stroke="#000" stroke-width="2"/>
<line x1="132.0" y1="947.8" x2="132.0" y2="970.1" stroke="#000" stroke-width="2"/>
<line x1="127.0" y1="947.8" x2="137.0" y2="947.8" stroke="#000" stroke-width="2"/>
<line x1="127.0" y1="970.1" x2="137.0" y2="970.1" stroke="#000" stroke-width="2"/>
<line x1="156.1" y1="904.4" x2="156.1" y2="949.0" stroke="#000" stroke-width="2"/>
<line x1="151.1" y1="904.4" x2="161.1" y2="904.4" stroke="#000" stroke-width="2"/>
<line x1="151.1" y1="949.0" x2="161.1" y2="949.0" stroke="#000" stroke-width="2"/>
<line x1="181.3" y1="947.3" x2="181.3" y2="967.3" stroke="#000" stroke-width="2"/>
<line x1="176.3" y1="947.3" x2="186.3" y2="947.3" stroke="#000" stroke-width="2"/>
<line x1="176.3" y1="967.3" x2="186.3" y2="967.3" stroke="#000" stroke-width="2"/>
<line x1="205.8" y1="962.9" x2="205.8" y2="979.6" stroke="#000" stroke-width="2"/>
<line x1="200.8" y1="962.9" x2="210.8" y2="962.9" stroke="#000" stroke-width="2"/>
<line x1="200.8" y1="979.6" x2="210.8" y2="979.6" stroke="#000" stroke-width="2"/>
<line x1="81.6" y1="1012.5" x2="81.6" y2="1015.8" stroke="#000" stroke-width="2"/>
<line x1="76.6" y1="1012.5" x2="86.6" y2="1012.5" stroke="#000" stroke-width="2"/>
<line x1="76.6" y1="1015.8" x2="86.6" y2="1015.8" stroke="#000" stroke-width="2"/>
<line x1="106.8" y1="990.2" x2="106.8" y2="996.9" stroke="#000" stroke-width="2"/>
<line x1="101.8" y1="990.2" x2="111.8" y2="990.2" stroke="#000" stroke-width="2"/>
<line x1="101.8" y1="996.9" x2="111.8" y2="996.9" stroke="#000" stroke-width="2"/>
<line x1="132.0" y1="954.5" x2="132.0" y2="976.8" stroke="#000" stroke-width="2"/>
<line x1="127.0" y1="954.5" x2="137.0" y2="954.5" stroke="#000" stroke-width="2"/>
<line x1="127.0" y1="976.8" x2="137.0" y2="976.8" stroke="#000" stroke-width="2"/>
<line x1="156.1" y1="943.4" x2="156.1" y2="965.7" stroke="#000" stroke-width="2"/>
<line x1="151.1" y1="943.4" x2="161.1" y2="943.4" stroke="#000" stroke-width="2"/>
<line x1="151.1" y1="965.7" x2="161.1" y2="965.7" stroke="#000" stroke-width="2"/>
<line x1="181.3" y1="968.5" x2="181.3" y2="979.6" stroke="#000" stroke-width="2"/>
<line x1="176.3" y1="968.5" x2="186.3" y2="968.5" stroke="#000" stroke-width="2"/>
<line x1="176.3" y1="979.6" x2="186.3" y2="979.6" stroke="#000" stroke-width="2"/>
<line x1="205.8" y1="968.5" x2="205.8" y2="981.8" stroke="#000" stroke-width="2"/>
<line x1="200.8" y1="968.5" x2="210.8" y2="968.5" stroke="#000" stroke-width="2"/>
<line x1="200.8" y1="981.8" x2="210.8" y2="981.8" stroke="#000" stroke-width="2"/>
<line x1="81.6" y1="1012.5" x2="81.6" y2="1015.8" stroke="#000" stroke-width="2"/>
<line x1="76.6" y1="1012.5" x2="86.6" y2="1012.5" stroke="#000" stroke-width="2"/>
<line x1="76.6" y1="1015.8" x2="86.6" y2="1015.8" stroke="#000" stroke-width="2"/>
<line x1="106.8" y1="991.9" x2="106.8" y2="998.5" stroke="#000" stroke-width="2"/>
<line x1="101.8" y1="991.9" x2="111.8" y2="991.9" stroke="#000" stroke-width="2"/>
<line x1="101.8" y1="998.5" x2="111.8" y2="998.5" stroke="#000" stroke-width="2"/>
<line x1="132.0" y1="959.0" x2="132.0" y2="975.7" stroke="#000" stroke-width="2"/>
<line x1="127.0" y1="959.0" x2="137.0" y2="959.0" stroke="#000" stroke-width="2"/>
<line x1="127.0" y1="975.7" x2="137.0" y2="975.7" stroke="#000" stroke-width="2"/>
<line x1="156.1" y1="931.1" x2="156.1" y2="959.0" stroke="#000" stroke-width="2"/>
<line x1="151.1" y1="931.1" x2="161.1" y2="931.1" stroke="#000" stroke-width="2"/>
<line x1="151.1" y1="959.0" x2="161.1" y2="959.0" stroke="#000" stroke-width="2"/>
<line x1="181.3" y1="951.7" x2="181.3" y2="968.5" stroke="#000" stroke-width="2"/>
<line x1="176.3" y1="951.7" x2="186.3" y2="951.7" stroke="#000" stroke-width="2"/>
<line x1="176.3" y1="968.5" x2="186.3" y2="968.5" stroke="#000" stroke-width="2"/>
<line x1="205.8" y1="966.8" x2="205.8" y2="983.5" stroke="#000" stroke-width="2"/>
<line x1="200.8" y1="966.8" x2="210.8" y2="966.8" stroke="#000" stroke-width="2"/>
<line x1="200.8" y1="983.5" x2="210.8" y2="983.5" stroke="#000" stroke-width="2"/>
<rect x="75.6" y="1007.0" width="12" height="12" fill="#e33a26" stroke="#000" stroke-width="2"/>
<rect x="100.8" y="985.9" width="12" height="12" fill="#e33a26" stroke="#000" stroke-width="2"/>
<rect x="126.0" y="946.9" width="12" height="12" fill="#e33a26" stroke="#000" stroke-width="2"/>
<rect x="150.1" y="917.9" width="12" height="12" fill="#e33a26" stroke="#000" stroke-width="2"/>
<rect x="175.3" y="962.5" width="12" height="12" fill="#e33a26" stroke="#000" stroke-width="2"/>
<rect x="199.8" y="965.2" width="12" height="12" fill="#e33a26" stroke="#000" stroke-width="2"/>
<circle cx="81.6" cy="1014.1" r="6.0" fill="#e8584e" stroke="#000" stroke-width="2"/>
<circle cx="106.8" cy="989.6" r="6.0" fill="#e8584e" stroke="#000" stroke-width="2"/>
<circle cx="132.0" cy="959.0" r="6.0" fill="#e8584e" stroke="#000" stroke-width="2"/>
<circle cx="156.1" cy="926.7" r="6.0" fill="#e8584e" stroke="#000" stroke-width="2"/>
<circle cx="181.3" cy="957.3" r="6.0" fill="#e8584e" stroke="#000" stroke-width="2"/>
<circle cx="205.8" cy="971.2" r="6.0" fill="#e8584e" stroke="#000" stroke-width="2"/>
<polygon points="81.6,1007.8 87.9,1014.1 81.6,1020.4 75.3,1014.1" fill="#ef7d7b" stroke="#000" stroke-width="2"/>
<polygon points="106.8,987.2 113.1,993.5 106.8,999.8 100.5,993.5" fill="#ef7d7b" stroke="#000" stroke-width="2"/>
<polygon points="132.0,959.4 138.3,965.7 132.0,972.0 125.7,965.7" fill="#ef7d7b" stroke="#000" stroke-width="2"/>
<polygon points="156.1,948.2 162.4,954.5 156.1,960.8 149.8,954.5" fill="#ef7d7b" stroke="#000" stroke-width="2"/>
<polygon points="181.3,967.7 187.6,974.0 181.3,980.3 175.0,974.0" fill="#ef7d7b" stroke="#000" stroke-width="2"/>
<polygon points="205.8,968.8 212.1,975.1 205.8,981.4 199.5,975.1" fill="#ef7d7b" stroke="#000" stroke-width="2"/>
<polygon points="81.6,1008.2 87.3,1018.4 75.9,1018.4" fill="#f7cfd0" stroke="#000" stroke-width="2" stroke-linejoin="miter"/>
<polygon points="106.8,989.2 112.5,999.5 101.1,999.5" fill="#f7cfd0" stroke="#000" stroke-width="2" stroke-linejoin="miter"/>
<polygon points="132.0,961.4 137.7,971.6 126.3,971.6" fill="#f7cfd0" stroke="#000" stroke-width="2" stroke-linejoin="miter"/>
<polygon points="156.1,939.1 161.8,949.3 150.4,949.3" fill="#f7cfd0" stroke="#000" stroke-width="2" stroke-linejoin="miter"/>
<polygon points="181.3,954.1 187.0,964.4 175.6,964.4" fill="#f7cfd0" stroke="#000" stroke-width="2" stroke-linejoin="miter"/>
<polygon points="205.8,969.2 211.5,979.4 200.1,979.4" fill="#f7cfd0" stroke="#000" stroke-width="2" stroke-linejoin="miter"/>
<text transform="translate(234.90 867.20)" font-size="21" text-anchor="start" fill="#000" font-weight="bold" font-style="normal">j</text>
<line x1="300.6" y1="1016.3" x2="300.6" y2="874.3" stroke="#000" stroke-width="2"/>
<line x1="296.6" y1="1015.3" x2="300.6" y2="1015.3" stroke="#000" stroke-width="2"/>
<text transform="translate(290.00 1020.70) scale(1 1.1)" font-size="13.7" text-anchor="end" fill="#000" font-weight="normal" font-style="normal">0</text>
<line x1="296.6" y1="999.6" x2="300.6" y2="999.6" stroke="#000" stroke-width="2"/>
<text transform="translate(290.00 1005.03) scale(1 1.1)" font-size="13.7" text-anchor="end" fill="#000" font-weight="normal" font-style="normal">5</text>
<line x1="296.6" y1="984.0" x2="300.6" y2="984.0" stroke="#000" stroke-width="2"/>
<text transform="translate(290.00 989.37) scale(1 1.1)" font-size="13.7" text-anchor="end" fill="#000" font-weight="normal" font-style="normal">10</text>
<line x1="296.6" y1="968.3" x2="300.6" y2="968.3" stroke="#000" stroke-width="2"/>
<text transform="translate(290.00 973.70) scale(1 1.1)" font-size="13.7" text-anchor="end" fill="#000" font-weight="normal" font-style="normal">15</text>
<line x1="296.6" y1="952.6" x2="300.6" y2="952.6" stroke="#000" stroke-width="2"/>
<text transform="translate(290.00 958.04) scale(1 1.1)" font-size="13.7" text-anchor="end" fill="#000" font-weight="normal" font-style="normal">20</text>
<line x1="296.6" y1="937.0" x2="300.6" y2="937.0" stroke="#000" stroke-width="2"/>
<text transform="translate(290.00 942.37) scale(1 1.1)" font-size="13.7" text-anchor="end" fill="#000" font-weight="normal" font-style="normal">25</text>
<line x1="296.6" y1="921.3" x2="300.6" y2="921.3" stroke="#000" stroke-width="2"/>
<text transform="translate(290.00 926.71) scale(1 1.1)" font-size="13.7" text-anchor="end" fill="#000" font-weight="normal" font-style="normal">30</text>
<line x1="296.6" y1="905.6" x2="300.6" y2="905.6" stroke="#000" stroke-width="2"/>
<text transform="translate(290.00 911.04) scale(1 1.1)" font-size="13.7" text-anchor="end" fill="#000" font-weight="normal" font-style="normal">35</text>
<line x1="296.6" y1="890.0" x2="300.6" y2="890.0" stroke="#000" stroke-width="2"/>
<text transform="translate(290.00 895.38) scale(1 1.1)" font-size="13.7" text-anchor="end" fill="#000" font-weight="normal" font-style="normal">40</text>
<line x1="296.6" y1="874.3" x2="300.6" y2="874.3" stroke="#000" stroke-width="2"/>
<text transform="translate(290.00 879.71) scale(1 1.1)" font-size="13.7" text-anchor="end" fill="#000" font-weight="normal" font-style="normal">45</text>
<line x1="300.6" y1="1015.3" x2="444.3" y2="1015.3" stroke="#000" stroke-width="2"/>
<line x1="318.4" y1="1015.3" x2="318.4" y2="1019.3" stroke="#000" stroke-width="2"/>
<line x1="354.3" y1="1015.3" x2="354.3" y2="1019.3" stroke="#000" stroke-width="2"/>
<line x1="390.6" y1="1015.3" x2="390.6" y2="1019.3" stroke="#000" stroke-width="2"/>
<line x1="426.5" y1="1015.3" x2="426.5" y2="1019.3" stroke="#000" stroke-width="2"/>
<line x1="444.0" y1="1015.3" x2="444.0" y2="1019.3" stroke="#000" stroke-width="2"/>
<text transform="translate(318.40 1036.40) scale(1 1.1)" font-size="13.7" text-anchor="middle" fill="#000" font-weight="normal" font-style="normal">1</text>
<text transform="translate(354.30 1036.40) scale(1 1.1)" font-size="13.7" text-anchor="middle" fill="#000" font-weight="normal" font-style="normal">2</text>
<text transform="translate(390.60 1036.40) scale(1 1.1)" font-size="13.7" text-anchor="middle" fill="#000" font-weight="normal" font-style="normal">3</text>
<text transform="translate(426.50 1036.40) scale(1 1.1)" font-size="13.7" text-anchor="middle" fill="#000" font-weight="normal" font-style="normal">4</text>
<text transform="translate(378.70 1062.20) scale(1 1.1)" font-size="13.7" text-anchor="middle" fill="#000" font-weight="normal" font-style="normal">Tube test rank</text>
<text transform="translate(258.10 945.80) rotate(-90) scale(1 1.1)" font-size="13.7" text-anchor="middle" fill="#000" font-weight="normal" font-style="normal">% gB+ of CD8+ T-cells</text>
<polyline points="318.4,894.7 354.3,894.7 390.6,957.3 426.5,949.5" fill="none" stroke="#aaaaaa" stroke-width="2"/>
<polyline points="318.4,921.3 354.3,955.8 390.6,977.7 426.5,974.6" fill="none" stroke="#aaaaaa" stroke-width="2"/>
<polyline points="318.4,1002.8 354.3,932.3 390.6,1004.3 426.5,1001.2" fill="none" stroke="#aaaaaa" stroke-width="2"/>
<polyline points="318.4,977.7 354.3,969.9 390.6,968.3 426.5,962.0" fill="none" stroke="#aaaaaa" stroke-width="2"/>
<polyline points="318.4,984.0 354.3,977.7 390.6,990.2 426.5,990.2" fill="none" stroke="#aaaaaa" stroke-width="2"/>
<polyline points="318.4,990.2 354.3,987.1 390.6,977.7 426.5,974.6" fill="none" stroke="#aaaaaa" stroke-width="2"/>
<polyline points="318.4,996.5 354.3,998.1 390.6,990.2 426.5,1001.2" fill="none" stroke="#aaaaaa" stroke-width="2"/>
<polyline points="318.4,968.3 354.3,969.9 390.6,977.7 426.5,949.5" fill="none" stroke="#aaaaaa" stroke-width="2"/>
<circle cx="354.3" cy="894.7" r="6.0" fill="none" stroke="#48bd3c" stroke-width="2"/>
<polygon points="390.6,951.0 396.9,957.3 390.6,963.6 384.3,957.3" fill="none" stroke="#48bd3c" stroke-width="2"/>
<polygon points="426.5,943.5 432.2,953.8 420.8,953.8" fill="none" stroke="#48bd3c" stroke-width="2" stroke-linejoin="miter"/>
<circle cx="354.3" cy="955.8" r="6.0" fill="none" stroke="#48bd3c" stroke-width="2"/>
<polygon points="390.6,971.4 396.9,977.7 390.6,984.0 384.3,977.7" fill="none" stroke="#48bd3c" stroke-width="2"/>
<polygon points="426.5,968.6 432.2,978.8 420.8,978.8" fill="none" stroke="#48bd3c" stroke-width="2" stroke-linejoin="miter"/>
<rect x="312.4" y="996.8" width="12" height="12" fill="none" stroke="#48bd3c" stroke-width="2"/>
<polygon points="390.6,998.0 396.9,1004.3 390.6,1010.6 384.3,1004.3" fill="none" stroke="#48bd3c" stroke-width="2"/>
<polygon points="426.5,995.2 432.2,1005.5 420.8,1005.5" fill="none" stroke="#48bd3c" stroke-width="2" stroke-linejoin="miter"/>
<rect x="312.4" y="971.7" width="12" height="12" fill="none" stroke="#48bd3c" stroke-width="2"/>
<circle cx="354.3" cy="969.9" r="6.0" fill="none" stroke="#48bd3c" stroke-width="2"/>
<rect x="312.4" y="978.0" width="12" height="12" fill="none" stroke="#48bd3c" stroke-width="2"/>
<circle cx="354.3" cy="977.7" r="6.0" fill="none" stroke="#48bd3c" stroke-width="2"/>
<polygon points="390.6,983.9 396.9,990.2 390.6,996.5 384.3,990.2" fill="none" stroke="#48bd3c" stroke-width="2"/>
<rect x="312.4" y="984.2" width="12" height="12" fill="none" stroke="#48bd3c" stroke-width="2"/>
<circle cx="354.3" cy="987.1" r="6.0" fill="none" stroke="#48bd3c" stroke-width="2"/>
<polygon points="390.6,971.4 396.9,977.7 390.6,984.0 384.3,977.7" fill="none" stroke="#48bd3c" stroke-width="2"/>
<polygon points="426.5,968.6 432.2,978.8 420.8,978.8" fill="none" stroke="#48bd3c" stroke-width="2" stroke-linejoin="miter"/>
<rect x="312.4" y="990.5" width="12" height="12" fill="none" stroke="#48bd3c" stroke-width="2"/>
<circle cx="354.3" cy="998.1" r="6.0" fill="none" stroke="#48bd3c" stroke-width="2"/>
<polygon points="390.6,983.9 396.9,990.2 390.6,996.5 384.3,990.2" fill="none" stroke="#48bd3c" stroke-width="2"/>
<polygon points="426.5,995.2 432.2,1005.5 420.8,1005.5" fill="none" stroke="#48bd3c" stroke-width="2" stroke-linejoin="miter"/>
<circle cx="354.3" cy="969.9" r="6.0" fill="none" stroke="#48bd3c" stroke-width="2"/>
<polygon points="390.6,971.4 396.9,977.7 390.6,984.0 384.3,977.7" fill="none" stroke="#48bd3c" stroke-width="2"/>
<polygon points="426.5,943.5 432.2,953.8 420.8,953.8" fill="none" stroke="#48bd3c" stroke-width="2" stroke-linejoin="miter"/>
<rect x="312.4" y="888.7" width="12" height="12" fill="none" stroke="#4a4cb4" stroke-width="2"/>
<rect x="312.4" y="915.3" width="12" height="12" fill="none" stroke="#4a4cb4" stroke-width="2"/>
<circle cx="354.3" cy="932.3" r="6.0" fill="none" stroke="#4a4cb4" stroke-width="2"/>
<polygon points="390.6,962.0 396.9,968.3 390.6,974.6 384.3,968.3" fill="none" stroke="#4a4cb4" stroke-width="2"/>
<polygon points="426.5,956.1 432.2,966.3 420.8,966.3" fill="none" stroke="#4a4cb4" stroke-width="2" stroke-linejoin="miter"/>
<polygon points="426.5,984.3 432.2,994.5 420.8,994.5" fill="none" stroke="#4a4cb4" stroke-width="2" stroke-linejoin="miter"/>
<rect x="312.4" y="962.3" width="12" height="12" fill="none" stroke="#4a4cb4" stroke-width="2"/>
<polyline points="318.4,962.0 354.3,963.6 390.6,979.3 426.5,973.0" fill="none" stroke="#000" stroke-width="2"/>
<line x1="318.4" y1="949.5" x2="318.4" y2="974.6" stroke="#000" stroke-width="2"/>
<line x1="313.4" y1="949.5" x2="323.4" y2="949.5" stroke="#000" stroke-width="2"/>
<line x1="313.4" y1="974.6" x2="323.4" y2="974.6" stroke="#000" stroke-width="2"/>
<line x1="354.3" y1="952.6" x2="354.3" y2="974.6" stroke="#000" stroke-width="2"/>
<line x1="349.3" y1="952.6" x2="359.3" y2="952.6" stroke="#000" stroke-width="2"/>
<line x1="349.3" y1="974.6" x2="359.3" y2="974.6" stroke="#000" stroke-width="2"/>
<line x1="390.6" y1="976.1" x2="390.6" y2="982.4" stroke="#000" stroke-width="2"/>
<line x1="385.6" y1="976.1" x2="395.6" y2="976.1" stroke="#000" stroke-width="2"/>
<line x1="385.6" y1="982.4" x2="395.6" y2="982.4" stroke="#000" stroke-width="2"/>
<line x1="426.5" y1="969.9" x2="426.5" y2="976.1" stroke="#000" stroke-width="2"/>
<line x1="421.5" y1="969.9" x2="431.5" y2="969.9" stroke="#000" stroke-width="2"/>
<line x1="421.5" y1="976.1" x2="431.5" y2="976.1" stroke="#000" stroke-width="2"/>
<rect x="312.4" y="956.0" width="12" height="12" fill="#e33a26" stroke="#000" stroke-width="2"/>
<circle cx="354.3" cy="963.6" r="6.0" fill="#e8584e" stroke="#000" stroke-width="2"/>
<polygon points="390.6,973.0 396.9,979.3 390.6,985.6 384.3,979.3" fill="#ef7d7b" stroke="#000" stroke-width="2"/>
<polygon points="426.5,967.0 432.2,977.3 420.8,977.3" fill="#f7cfd0" stroke="#000" stroke-width="2" stroke-linejoin="miter"/>
<text transform="translate(450.80 871.90)" font-size="21" text-anchor="start" fill="#000" font-weight="bold" font-style="normal">k</text>
<line x1="530.1" y1="1013.4" x2="530.1" y2="870.4" stroke="#000" stroke-width="2"/>
<line x1="526.1" y1="1012.4" x2="530.1" y2="1012.4" stroke="#000" stroke-width="2"/>
<text transform="translate(518.50 1017.32) scale(1 1.1)" font-size="12.5" text-anchor="end" fill="#000" font-weight="normal" font-style="normal">0.4</text>
<line x1="526.1" y1="988.7" x2="530.1" y2="988.7" stroke="#000" stroke-width="2"/>
<text transform="translate(518.50 993.66) scale(1 1.1)" font-size="12.5" text-anchor="end" fill="#000" font-weight="normal" font-style="normal">0.6</text>
<line x1="526.1" y1="965.1" x2="530.1" y2="965.1" stroke="#000" stroke-width="2"/>
<text transform="translate(518.50 970.00) scale(1 1.1)" font-size="12.5" text-anchor="end" fill="#000" font-weight="normal" font-style="normal">0.8</text>
<line x1="526.1" y1="941.4" x2="530.1" y2="941.4" stroke="#000" stroke-width="2"/>
<text transform="translate(518.50 946.34) scale(1 1.1)" font-size="12.5" text-anchor="end" fill="#000" font-weight="normal" font-style="normal">1</text>
<line x1="526.1" y1="917.8" x2="530.1" y2="917.8" stroke="#000" stroke-width="2"/>
<text transform="translate(518.50 922.68) scale(1 1.1)" font-size="12.5" text-anchor="end" fill="#000" font-weight="normal" font-style="normal">1.2</text>
<line x1="526.1" y1="894.1" x2="530.1" y2="894.1" stroke="#000" stroke-width="2"/>
<text transform="translate(518.50 899.02) scale(1 1.1)" font-size="12.5" text-anchor="end" fill="#000" font-weight="normal" font-style="normal">1.4</text>
<line x1="526.1" y1="870.4" x2="530.1" y2="870.4" stroke="#000" stroke-width="2"/>
<text transform="translate(518.50 875.36) scale(1 1.1)" font-size="12.5" text-anchor="end" fill="#000" font-weight="normal" font-style="normal">1.6</text>
<line x1="530.1" y1="941.4" x2="674.3" y2="941.4" stroke="#000" stroke-width="2"/>
<line x1="674.0" y1="941.4" x2="674.0" y2="945.4" stroke="#000" stroke-width="2"/>
<rect x="535.9" y="923.7" width="24.6" height="17.7" fill="#e03a22" stroke="#000" stroke-width="2"/>
<line x1="548.2" y1="901.2" x2="548.2" y2="947.3" stroke="#000" stroke-width="2"/>
<line x1="542.7" y1="901.2" x2="553.7" y2="901.2" stroke="#000" stroke-width="2"/>
<line x1="542.7" y1="947.3" x2="553.7" y2="947.3" stroke="#000" stroke-width="2"/>
<rect x="571.6" y="932.0" width="24.6" height="9.5" fill="#e85a52" stroke="#000" stroke-width="2"/>
<line x1="583.9" y1="918.9" x2="583.9" y2="945.0" stroke="#000" stroke-width="2"/>
<line x1="578.4" y1="918.9" x2="589.4" y2="918.9" stroke="#000" stroke-width="2"/>
<line x1="578.4" y1="945.0" x2="589.4" y2="945.0" stroke="#000" stroke-width="2"/>
<rect x="608.1" y="941.4" width="24.6" height="21.3" fill="#f08a86" stroke="#000" stroke-width="2"/>
<line x1="620.4" y1="946.2" x2="620.4" y2="979.3" stroke="#000" stroke-width="2"/>
<line x1="614.9" y1="946.2" x2="625.9" y2="946.2" stroke="#000" stroke-width="2"/>
<line x1="614.9" y1="979.3" x2="625.9" y2="979.3" stroke="#000" stroke-width="2"/>
<rect x="643.1" y="941.4" width="24.6" height="5.9" fill="#f8d4d4" stroke="#000" stroke-width="2"/>
<line x1="655.4" y1="927.2" x2="655.4" y2="966.3" stroke="#000" stroke-width="2"/>
<line x1="649.9" y1="927.2" x2="660.9" y2="927.2" stroke="#000" stroke-width="2"/>
<line x1="649.9" y1="966.3" x2="660.9" y2="966.3" stroke="#000" stroke-width="2"/>
<text transform="translate(549.10 1037.40) scale(1 1.1)" font-size="13.7" text-anchor="middle" fill="#000" font-weight="normal" font-style="normal">1</text>
<text transform="translate(583.10 1037.40) scale(1 1.1)" font-size="13.7" text-anchor="middle" fill="#000" font-weight="normal" font-style="normal">2</text>
<text transform="translate(617.00 1037.40) scale(1 1.1)" font-size="13.7" text-anchor="middle" fill="#000" font-weight="normal" font-style="normal">3</text>
<text transform="translate(653.90 1037.40) scale(1 1.1)" font-size="13.7" text-anchor="middle" fill="#000" font-weight="normal" font-style="normal">4</text>
<text transform="translate(612.00 1062.00) scale(1 1.1)" font-size="13.7" text-anchor="middle" fill="#000" font-weight="normal" font-style="normal">Tube test rank</text>
<text transform="translate(481.70 943.90) rotate(-90)" font-size="14" text-anchor="middle" fill="#000" font-weight="normal" font-style="normal">Relative gB+ T-cells</text>
<text transform="translate(8.40 1093.60)" font-size="21" text-anchor="start" fill="#000" font-weight="bold" font-style="normal">l</text>
<line x1="70.5" y1="1245.6" x2="70.5" y2="1101.9" stroke="#000" stroke-width="2"/>
<line x1="66.5" y1="1244.6" x2="70.5" y2="1244.6" stroke="#000" stroke-width="2"/>
<text transform="translate(62.50 1250.00) scale(1 1.1)" font-size="13.7" text-anchor="end" fill="#000" font-weight="normal" font-style="normal">0</text>
<line x1="66.5" y1="1216.1" x2="70.5" y2="1216.1" stroke="#000" stroke-width="2"/>
<text transform="translate(62.50 1221.46) scale(1 1.1)" font-size="13.7" text-anchor="end" fill="#000" font-weight="normal" font-style="normal">5</text>
<line x1="66.5" y1="1187.5" x2="70.5" y2="1187.5" stroke="#000" stroke-width="2"/>
<text transform="translate(62.50 1192.92) scale(1 1.1)" font-size="13.7" text-anchor="end" fill="#000" font-weight="normal" font-style="normal">10</text>
<line x1="66.5" y1="1159.0" x2="70.5" y2="1159.0" stroke="#000" stroke-width="2"/>
<text transform="translate(62.50 1164.38) scale(1 1.1)" font-size="13.7" text-anchor="end" fill="#000" font-weight="normal" font-style="normal">15</text>
<line x1="66.5" y1="1130.4" x2="70.5" y2="1130.4" stroke="#000" stroke-width="2"/>
<text transform="translate(62.50 1135.84) scale(1 1.1)" font-size="13.7" text-anchor="end" fill="#000" font-weight="normal" font-style="normal">20</text>
<line x1="66.5" y1="1101.9" x2="70.5" y2="1101.9" stroke="#000" stroke-width="2"/>
<text transform="translate(62.50 1107.30) scale(1 1.1)" font-size="13.7" text-anchor="end" fill="#000" font-weight="normal" font-style="normal">25</text>
<line x1="70.5" y1="1244.6" x2="217.6" y2="1244.6" stroke="#000" stroke-width="2"/>
<line x1="86.3" y1="1244.6" x2="86.3" y2="1248.6" stroke="#000" stroke-width="2"/>
<line x1="110.8" y1="1244.6" x2="110.8" y2="1248.6" stroke="#000" stroke-width="2"/>
<line x1="134.3" y1="1244.6" x2="134.3" y2="1248.6" stroke="#000" stroke-width="2"/>
<line x1="158.5" y1="1244.6" x2="158.5" y2="1248.6" stroke="#000" stroke-width="2"/>
<line x1="182.0" y1="1244.6" x2="182.0" y2="1248.6" stroke="#000" stroke-width="2"/>
<line x1="205.5" y1="1244.6" x2="205.5" y2="1248.6" stroke="#000" stroke-width="2"/>
<line x1="217.0" y1="1244.6" x2="217.0" y2="1248.6" stroke="#000" stroke-width="2"/>
<text transform="translate(86.30 1265.40) scale(1 1.1)" font-size="13.7" text-anchor="middle" fill="#000" font-weight="normal" font-style="normal">7</text>
<text transform="translate(110.80 1265.40) scale(1 1.1)" font-size="13.7" text-anchor="middle" fill="#000" font-weight="normal" font-style="normal">10</text>
<text transform="translate(134.30 1265.40) scale(1 1.1)" font-size="13.7" text-anchor="middle" fill="#000" font-weight="normal" font-style="normal">12</text>
<text transform="translate(158.50 1265.40) scale(1 1.1)" font-size="13.7" text-anchor="middle" fill="#000" font-weight="normal" font-style="normal">14</text>
<text transform="translate(182.00 1265.40) scale(1 1.1)" font-size="13.7" text-anchor="middle" fill="#000" font-weight="normal" font-style="normal">17</text>
<text transform="translate(205.50 1265.40) scale(1 1.1)" font-size="13.7" text-anchor="middle" fill="#000" font-weight="normal" font-style="normal">20</text>
<text transform="translate(148.30 1286.60) scale(1 1.1)" font-size="13.7" text-anchor="middle" fill="#000" font-weight="normal" font-style="normal">Days after vaccination</text>
<text transform="translate(31.40 1171.00) rotate(-90) scale(1 1.1)" font-size="13.7" text-anchor="middle" fill="#000" font-weight="normal" font-style="normal">% gB+ of CD8+ T-cells</text>
<polyline points="86.3,1238.9 110.8,1213.2 134.3,1166.4 158.5,1124.7 182.0,1172.1 205.5,1183.0" fill="none" stroke="#000" stroke-width="2"/>
<polyline points="86.3,1240.0 110.8,1221.2 134.3,1192.1 158.5,1173.2 182.0,1195.5 205.5,1204.6" fill="none" stroke="#000" stroke-width="2"/>
<line x1="86.3" y1="1237.8" x2="86.3" y2="1240.0" stroke="#000" stroke-width="2"/>
<line x1="81.3" y1="1237.8" x2="91.3" y2="1237.8" stroke="#000" stroke-width="2"/>
<line x1="81.3" y1="1240.0" x2="91.3" y2="1240.0" stroke="#000" stroke-width="2"/>
<line x1="110.8" y1="1207.5" x2="110.8" y2="1218.9" stroke="#000" stroke-width="2"/>
<line x1="105.8" y1="1207.5" x2="115.8" y2="1207.5" stroke="#000" stroke-width="2"/>
<line x1="105.8" y1="1218.9" x2="115.8" y2="1218.9" stroke="#000" stroke-width="2"/>
<line x1="134.3" y1="1156.7" x2="134.3" y2="1176.1" stroke="#000" stroke-width="2"/>
<line x1="129.3" y1="1156.7" x2="139.3" y2="1156.7" stroke="#000" stroke-width="2"/>
<line x1="129.3" y1="1176.1" x2="139.3" y2="1176.1" stroke="#000" stroke-width="2"/>
<line x1="158.5" y1="1104.8" x2="158.5" y2="1144.7" stroke="#000" stroke-width="2"/>
<line x1="153.5" y1="1104.8" x2="163.5" y2="1104.8" stroke="#000" stroke-width="2"/>
<line x1="153.5" y1="1144.7" x2="163.5" y2="1144.7" stroke="#000" stroke-width="2"/>
<line x1="182.0" y1="1163.0" x2="182.0" y2="1181.2" stroke="#000" stroke-width="2"/>
<line x1="177.0" y1="1163.0" x2="187.0" y2="1163.0" stroke="#000" stroke-width="2"/>
<line x1="177.0" y1="1181.2" x2="187.0" y2="1181.2" stroke="#000" stroke-width="2"/>
<line x1="205.5" y1="1175.0" x2="205.5" y2="1190.9" stroke="#000" stroke-width="2"/>
<line x1="200.5" y1="1175.0" x2="210.5" y2="1175.0" stroke="#000" stroke-width="2"/>
<line x1="200.5" y1="1190.9" x2="210.5" y2="1190.9" stroke="#000" stroke-width="2"/>
<line x1="86.3" y1="1238.9" x2="86.3" y2="1241.2" stroke="#000" stroke-width="2"/>
<line x1="81.3" y1="1238.9" x2="91.3" y2="1238.9" stroke="#000" stroke-width="2"/>
<line x1="81.3" y1="1241.2" x2="91.3" y2="1241.2" stroke="#000" stroke-width="2"/>
<line x1="110.8" y1="1218.9" x2="110.8" y2="1223.5" stroke="#000" stroke-width="2"/>
<line x1="105.8" y1="1218.9" x2="115.8" y2="1218.9" stroke="#000" stroke-width="2"/>
<line x1="105.8" y1="1223.5" x2="115.8" y2="1223.5" stroke="#000" stroke-width="2"/>
<line x1="134.3" y1="1187.5" x2="134.3" y2="1196.7" stroke="#000" stroke-width="2"/>
<line x1="129.3" y1="1187.5" x2="139.3" y2="1187.5" stroke="#000" stroke-width="2"/>
<line x1="129.3" y1="1196.7" x2="139.3" y2="1196.7" stroke="#000" stroke-width="2"/>
<line x1="158.5" y1="1164.1" x2="158.5" y2="1182.4" stroke="#000" stroke-width="2"/>
<line x1="153.5" y1="1164.1" x2="163.5" y2="1164.1" stroke="#000" stroke-width="2"/>
<line x1="153.5" y1="1182.4" x2="163.5" y2="1182.4" stroke="#000" stroke-width="2"/>
<line x1="182.0" y1="1192.1" x2="182.0" y2="1198.9" stroke="#000" stroke-width="2"/>
<line x1="177.0" y1="1192.1" x2="187.0" y2="1192.1" stroke="#000" stroke-width="2"/>
<line x1="177.0" y1="1198.9" x2="187.0" y2="1198.9" stroke="#000" stroke-width="2"/>
<line x1="205.5" y1="1201.2" x2="205.5" y2="1208.1" stroke="#000" stroke-width="2"/>
<line x1="200.5" y1="1201.2" x2="210.5" y2="1201.2" stroke="#000" stroke-width="2"/>
<line x1="200.5" y1="1208.1" x2="210.5" y2="1208.1" stroke="#000" stroke-width="2"/>
<circle cx="86.3" cy="1240.0" r="6.0" fill="#48bd3c" stroke="#000" stroke-width="2"/>
<circle cx="110.8" cy="1221.2" r="6.0" fill="#48bd3c" stroke="#000" stroke-width="2"/>
<circle cx="134.3" cy="1192.1" r="6.0" fill="#48bd3c" stroke="#000" stroke-width="2"/>
<circle cx="158.5" cy="1173.2" r="6.0" fill="#48bd3c" stroke="#000" stroke-width="2"/>
<circle cx="182.0" cy="1195.5" r="6.0" fill="#48bd3c" stroke="#000" stroke-width="2"/>
<circle cx="205.5" cy="1204.6" r="6.0" fill="#48bd3c" stroke="#000" stroke-width="2"/>
<circle cx="86.3" cy="1238.9" r="6.0" fill="#4a4cb4" stroke="#000" stroke-width="2"/>
<circle cx="110.8" cy="1213.2" r="6.0" fill="#4a4cb4" stroke="#000" stroke-width="2"/>
<circle cx="134.3" cy="1166.4" r="6.0" fill="#4a4cb4" stroke="#000" stroke-width="2"/>
<circle cx="158.5" cy="1124.7" r="6.0" fill="#4a4cb4" stroke="#000" stroke-width="2"/>
<circle cx="182.0" cy="1172.1" r="6.0" fill="#4a4cb4" stroke="#000" stroke-width="2"/>
<circle cx="205.5" cy="1183.0" r="6.0" fill="#4a4cb4" stroke="#000" stroke-width="2"/>
<text transform="translate(134.30 1156.50)" font-size="19.5" text-anchor="middle" fill="#000" font-weight="normal" font-style="normal">*</text>
<text transform="translate(158.50 1105.00)" font-size="19.5" text-anchor="middle" fill="#000" font-weight="normal" font-style="normal">*</text>
<text transform="translate(182.00 1162.00)" font-size="19.5" text-anchor="middle" fill="#000" font-weight="normal" font-style="normal">*</text>
<text transform="translate(235.00 1093.60)" font-size="21" text-anchor="start" fill="#000" font-weight="bold" font-style="normal">m</text>
<line x1="306.6" y1="1244.9" x2="306.6" y2="1105.3" stroke="#000" stroke-width="2"/>
<line x1="302.6" y1="1243.9" x2="306.6" y2="1243.9" stroke="#000" stroke-width="2"/>
<text transform="translate(296.00 1249.30) scale(1 1.1)" font-size="13.7" text-anchor="end" fill="#000" font-weight="normal" font-style="normal">0.4</text>
<line x1="302.6" y1="1220.8" x2="306.6" y2="1220.8" stroke="#000" stroke-width="2"/>
<text transform="translate(296.00 1226.20) scale(1 1.1)" font-size="13.7" text-anchor="end" fill="#000" font-weight="normal" font-style="normal">0.6</text>
<line x1="302.6" y1="1197.7" x2="306.6" y2="1197.7" stroke="#000" stroke-width="2"/>
<text transform="translate(296.00 1203.10) scale(1 1.1)" font-size="13.7" text-anchor="end" fill="#000" font-weight="normal" font-style="normal">0.8</text>
<line x1="302.6" y1="1174.6" x2="306.6" y2="1174.6" stroke="#000" stroke-width="2"/>
<text transform="translate(296.00 1180.00) scale(1 1.1)" font-size="13.7" text-anchor="end" fill="#000" font-weight="normal" font-style="normal">1</text>
<line x1="302.6" y1="1151.5" x2="306.6" y2="1151.5" stroke="#000" stroke-width="2"/>
<text transform="translate(296.00 1156.90) scale(1 1.1)" font-size="13.7" text-anchor="end" fill="#000" font-weight="normal" font-style="normal">1.2</text>
<line x1="302.6" y1="1128.4" x2="306.6" y2="1128.4" stroke="#000" stroke-width="2"/>
<text transform="translate(296.00 1133.80) scale(1 1.1)" font-size="13.7" text-anchor="end" fill="#000" font-weight="normal" font-style="normal">1.4</text>
<line x1="302.6" y1="1105.3" x2="306.6" y2="1105.3" stroke="#000" stroke-width="2"/>
<text transform="translate(296.00 1110.70) scale(1 1.1)" font-size="13.7" text-anchor="end" fill="#000" font-weight="normal" font-style="normal">1.6</text>
<line x1="306.6" y1="1174.6" x2="445.7" y2="1174.6" stroke="#000" stroke-width="2"/>
<rect x="323.4" y="1174.6" width="35.3" height="17.3" fill="#48bd3c" stroke="#000" stroke-width="2"/>
<line x1="341.0" y1="1182.7" x2="341.0" y2="1201.2" stroke="#000" stroke-width="2"/>
<line x1="335.0" y1="1182.7" x2="347.0" y2="1182.7" stroke="#000" stroke-width="2"/>
<line x1="335.0" y1="1201.2" x2="347.0" y2="1201.2" stroke="#000" stroke-width="2"/>
<rect x="394.0" y="1122.6" width="34.9" height="52.0" fill="#4a4cb4" stroke="#000" stroke-width="2"/>
<line x1="411.4" y1="1106.5" x2="411.4" y2="1140.0" stroke="#000" stroke-width="2"/>
<line x1="405.4" y1="1106.5" x2="417.4" y2="1106.5" stroke="#000" stroke-width="2"/>
<line x1="405.4" y1="1140.0" x2="417.4" y2="1140.0" stroke="#000" stroke-width="2"/>
<polyline points="340.9,1095.2 340.9,1087.5 411.4,1087.5 411.4,1095.2" fill="none" stroke="#000" stroke-width="2"/>
<text transform="translate(377.20 1092.70)" font-size="21" text-anchor="middle" fill="#000" font-weight="normal" font-style="normal">***</text>
<text transform="translate(341.60 1264.80) scale(1 1.1)" font-size="13.7" text-anchor="middle" fill="#000" font-weight="normal" font-style="normal">GFP</text>
<text transform="translate(411.40 1264.80) scale(1 1.1)" font-size="13.7" text-anchor="middle" fill="#000" font-weight="normal" font-style="normal">GluA1</text>
<text transform="translate(257.10 1175.30) rotate(-90) scale(1 1.05)" font-size="14" text-anchor="middle" fill="#000" font-weight="normal" font-style="normal">Relative gB+ T-cells</text>
<text transform="translate(454.40 1091.90)" font-size="21" text-anchor="start" fill="#000" font-weight="bold" font-style="normal">n</text>
<line x1="527.6" y1="1239.8" x2="527.6" y2="1101.5" stroke="#000" stroke-width="2"/>
<line x1="523.6" y1="1238.8" x2="527.6" y2="1238.8" stroke="#000" stroke-width="2"/>
<text transform="translate(517.50 1244.20) scale(1 1.1)" font-size="13.7" text-anchor="end" fill="#000" font-weight="normal" font-style="normal">0</text>
<line x1="523.6" y1="1211.3" x2="527.6" y2="1211.3" stroke="#000" stroke-width="2"/>
<text transform="translate(517.50 1216.75) scale(1 1.1)" font-size="13.7" text-anchor="end" fill="#000" font-weight="normal" font-style="normal">0.5</text>
<line x1="523.6" y1="1183.9" x2="527.6" y2="1183.9" stroke="#000" stroke-width="2"/>
<text transform="translate(517.50 1189.30) scale(1 1.1)" font-size="13.7" text-anchor="end" fill="#000" font-weight="normal" font-style="normal">1</text>
<line x1="523.6" y1="1156.5" x2="527.6" y2="1156.5" stroke="#000" stroke-width="2"/>
<text transform="translate(517.50 1161.85) scale(1 1.1)" font-size="13.7" text-anchor="end" fill="#000" font-weight="normal" font-style="normal">1.5</text>
<line x1="523.6" y1="1129.0" x2="527.6" y2="1129.0" stroke="#000" stroke-width="2"/>
<text transform="translate(517.50 1134.40) scale(1 1.1)" font-size="13.7" text-anchor="end" fill="#000" font-weight="normal" font-style="normal">2</text>
<line x1="523.6" y1="1101.5" x2="527.6" y2="1101.5" stroke="#000" stroke-width="2"/>
<text transform="translate(517.50 1106.95) scale(1 1.1)" font-size="13.7" text-anchor="end" fill="#000" font-weight="normal" font-style="normal">2.5</text>
<line x1="527.6" y1="1238.8" x2="674.3" y2="1238.8" stroke="#000" stroke-width="2"/>
<line x1="527.6" y1="1238.8" x2="527.6" y2="1242.8" stroke="#000" stroke-width="2"/>
<text transform="translate(527.60 1259.60) scale(1 1.1)" font-size="13.7" text-anchor="middle" fill="#000" font-weight="normal" font-style="normal">0.0</text>
<line x1="564.3" y1="1238.8" x2="564.3" y2="1242.8" stroke="#000" stroke-width="2"/>
<text transform="translate(564.30 1259.60) scale(1 1.1)" font-size="13.7" text-anchor="middle" fill="#000" font-weight="normal" font-style="normal">0.5</text>
<line x1="601.0" y1="1238.8" x2="601.0" y2="1242.8" stroke="#000" stroke-width="2"/>
<text transform="translate(601.00 1259.60) scale(1 1.1)" font-size="13.7" text-anchor="middle" fill="#000" font-weight="normal" font-style="normal">1.0</text>
<line x1="637.6" y1="1238.8" x2="637.6" y2="1242.8" stroke="#000" stroke-width="2"/>
<text transform="translate(637.60 1259.60) scale(1 1.1)" font-size="13.7" text-anchor="middle" fill="#000" font-weight="normal" font-style="normal">1.5</text>
<line x1="674.3" y1="1238.8" x2="674.3" y2="1242.8" stroke="#000" stroke-width="2"/>
<text transform="translate(674.30 1259.60) scale(1 1.1)" font-size="13.7" text-anchor="middle" fill="#000" font-weight="normal" font-style="normal">2.0</text>
<text transform="translate(601.00 1286.40) scale(1 1.1)" font-size="13.7" text-anchor="middle" fill="#000" font-weight="normal" font-style="normal">Relative corticosterone</text>
<text transform="translate(477.80 1165.70) rotate(-90)" font-size="14" text-anchor="middle" fill="#000" font-weight="normal" font-style="normal">Relative gB+ T-cells</text>
<text transform="translate(670.70 1101.50) scale(1 1.1)" font-size="13.7" text-anchor="end" fill="#000" font-weight="normal" font-style="normal"><tspan font-style="italic">r</tspan> = -0.22</text>
<text transform="translate(617.00 1118.30) scale(1 1.1)" font-size="13.7" text-anchor="start" fill="#000" font-weight="normal" font-style="normal"><tspan font-style="italic">P</tspan> = 0.2</text>
<line x1="536.6" y1="1169.4" x2="651.0" y2="1198.0" stroke="#000" stroke-width="2"/>
<rect x="601.9" y="1127.6" width="11.2" height="11.2" fill="#4a4cb4" stroke="#000" stroke-width="1.8"/>
<rect x="607.0" y="1143.3" width="11.2" height="11.2" fill="#4a4cb4" stroke="#000" stroke-width="1.8"/>
<rect x="564.0" y="1150.5" width="11.2" height="11.2" fill="#4a4cb4" stroke="#000" stroke-width="1.8"/>
<rect x="609.9" y="1158.1" width="11.2" height="11.2" fill="#4a4cb4" stroke="#000" stroke-width="1.8"/>
<circle cx="562.0" cy="1175.4" r="5.6" fill="#48bd3c" stroke="#000" stroke-width="1.8"/>
<circle cx="587.7" cy="1163.4" r="5.6" fill="#48bd3c" stroke="#000" stroke-width="1.8"/>
<polygon points="578.1,1165.5 584.0,1171.4 578.1,1177.3 572.2,1171.4" fill="#48bd3c" stroke="#000" stroke-width="1.8"/>
<polygon points="589.3,1164.7 595.2,1170.6 589.3,1176.5 583.4,1170.6" fill="#48bd3c" stroke="#000" stroke-width="1.8"/>
<polygon points="596.6,1167.4 601.9,1177.0 591.3,1177.0" fill="#48bd3c" stroke="#000" stroke-width="1.8" stroke-linejoin="miter"/>
<circle cx="590.1" cy="1180.2" r="5.6" fill="#48bd3c" stroke="#000" stroke-width="1.8"/>
<polygon points="591.0,1179.1 596.9,1185.0 591.0,1190.9 585.1,1185.0" fill="#48bd3c" stroke="#000" stroke-width="1.8"/>
<circle cx="596.6" cy="1187.4" r="5.6" fill="#48bd3c" stroke="#000" stroke-width="1.8"/>
<circle cx="625.5" cy="1177.0" r="5.6" fill="#48bd3c" stroke="#000" stroke-width="1.8"/>
<rect x="635.1" y="1179.4" width="11.2" height="11.2" fill="#48bd3c" stroke="#000" stroke-width="1.8"/>
<rect x="613.8" y="1193.1" width="11.2" height="11.2" fill="#48bd3c" stroke="#000" stroke-width="1.8"/>
<polygon points="648.0,1197.9 653.3,1207.5 642.7,1207.5" fill="#48bd3c" stroke="#000" stroke-width="1.8" stroke-linejoin="miter"/>
<polygon points="578.6,1192.3 583.9,1201.9 573.3,1201.9" fill="#48bd3c" stroke="#000" stroke-width="1.8" stroke-linejoin="miter"/>
<rect x="576.5" y="1199.5" width="11.2" height="11.2" fill="#48bd3c" stroke="#000" stroke-width="1.8"/>
<polygon points="566.1,1203.5 571.4,1213.1 560.8,1213.1" fill="#48bd3c" stroke="#000" stroke-width="1.8" stroke-linejoin="miter"/>
<polygon points="595.8,1197.6 601.7,1203.5 595.8,1209.4 589.9,1203.5" fill="#48bd3c" stroke="#000" stroke-width="1.8"/>
<polygon points="604.6,1200.3 609.9,1209.9 599.3,1209.9" fill="#48bd3c" stroke="#000" stroke-width="1.8" stroke-linejoin="miter"/>
<rect x="591.0" y="1214.0" width="11.2" height="11.2" fill="#48bd3c" stroke="#000" stroke-width="1.8"/>
<circle cx="597.4" cy="1213.1" r="5.6" fill="#48bd3c" stroke="#000" stroke-width="1.8"/>
<polygon points="605.4,1211.3 611.3,1217.2 605.4,1223.1 599.5,1217.2" fill="#48bd3c" stroke="#000" stroke-width="1.8"/>
<polygon points="623.1,1204.8 629.0,1210.7 623.1,1216.6 617.2,1210.7" fill="#48bd3c" stroke="#000" stroke-width="1.8"/>
<polygon points="638.3,1220.1 644.2,1226.0 638.3,1231.9 632.4,1226.0" fill="#48bd3c" stroke="#000" stroke-width="1.8"/>
<polygon points="628.2,1161.5 634.1,1167.4 628.2,1173.3 622.3,1167.4" fill="#4a4cb4" stroke="#000" stroke-width="1.8"/>
<polygon points="598.2,1161.0 603.5,1170.6 592.9,1170.6" fill="#4a4cb4" stroke="#000" stroke-width="1.8" stroke-linejoin="miter"/>
<polygon points="610.7,1200.3 616.0,1209.9 605.4,1209.9" fill="#4a4cb4" stroke="#000" stroke-width="1.8" stroke-linejoin="miter"/>
<polygon points="582.1,1133.4 587.4,1143.0 576.8,1143.0" fill="#48bd3c" stroke="#000" stroke-width="1.8" stroke-linejoin="miter"/>
<circle cx="588.5" cy="1133.7" r="5.6" fill="#4a4cb4" stroke="#000" stroke-width="1.8"/></svg></body></html>
